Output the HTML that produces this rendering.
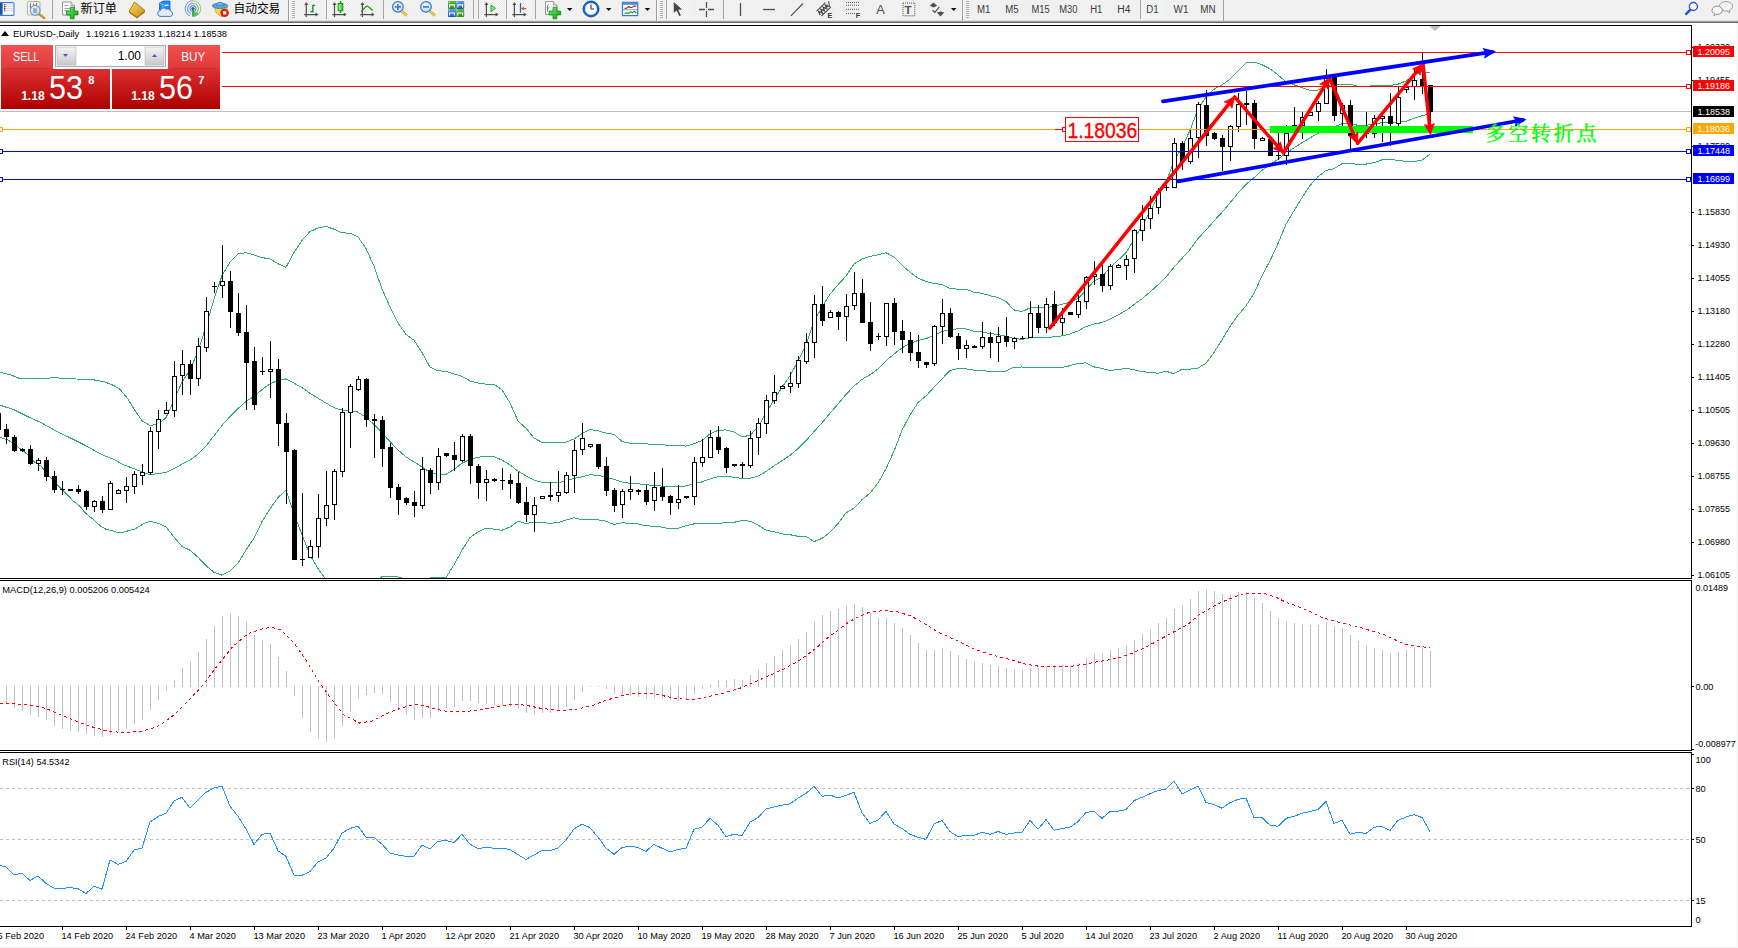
<!DOCTYPE html>
<html lang="zh"><head><meta charset="utf-8"><title>EURUSD-,Daily</title>
<style>
html,body{margin:0;padding:0;background:#fff;overflow:hidden}
svg{display:block}
text{font-family:"Liberation Sans", "Noto Sans CJK SC", sans-serif;}
.ax{font-size:9.2px;fill:#000}
.tf{font-size:10px;fill:#3c3c3c}
.cn{font-size:12px;fill:#000;font-family:"Liberation Sans","Noto Sans CJK SC",sans-serif}
</style></head><body>
<svg width="1738" height="948" viewBox="0 0 1738 948">
<defs>
<linearGradient id="gsell" x1="0" y1="0" x2="0" y2="1"><stop offset="0" stop-color="#f25050"/><stop offset="1" stop-color="#e03838"/></linearGradient>
<linearGradient id="gprice" x1="0" y1="0" x2="0" y2="1"><stop offset="0" stop-color="#de3030"/><stop offset="1" stop-color="#ad0000"/></linearGradient>
<linearGradient id="gbtn" x1="0" y1="0" x2="0" y2="1"><stop offset="0" stop-color="#f4f4f4"/><stop offset="1" stop-color="#c8c8c8"/></linearGradient>
</defs>
<rect x="0" y="0" width="1738" height="948" fill="#fff"/>

<g shape-rendering="crispEdges">
<rect x="0" y="111" width="1691" height="1" fill="#c0c0c0"/>
<clipPath id="mainclip"><rect x="0" y="26" width="1691" height="552"/></clipPath><g clip-path="url(#mainclip)">
<polyline points="0.0,372.3 11.4,375.2 20.9,379.0 34.2,378.6 47.5,378.6 54.1,377.1 62.7,378.6 76.0,379.0 91.1,379.4 104.4,381.8 113.9,385.6 119.6,388.9 127.2,398.0 134.8,410.3 142.4,421.1 150.0,425.5 158.0,424.2 166.0,417.7 174.0,400.1 182.0,382.1 190.0,369.8 198.0,351.4 206.0,326.3 214.0,299.3 222.0,275.6 230.0,262.0 238.0,254.1 246.0,252.6 254.0,254.9 262.0,257.6 270.0,258.9 278.0,263.8 286.0,267.4 294.0,252.4 302.0,240.4 310.0,231.6 318.0,227.9 326.0,226.4 334.0,229.2 342.0,232.7 350.0,233.3 358.0,236.8 366.0,248.5 374.0,266.3 382.0,288.9 390.0,307.1 398.0,322.9 406.0,334.5 414.0,340.2 422.0,352.5 430.0,367.2 438.0,370.9 446.0,371.2 454.0,373.9 462.0,376.2 470.0,380.9 478.0,383.0 486.0,384.2 494.0,384.1 502.0,389.9 510.0,402.9 518.0,421.1 526.0,428.2 534.0,438.0 542.0,442.4 550.0,442.4 558.0,442.5 566.0,442.1 574.0,438.9 582.0,433.7 590.0,429.6 598.0,430.8 606.0,433.0 614.0,434.3 622.0,441.5 630.0,443.2 638.0,443.5 646.0,443.9 654.0,444.3 662.0,444.9 670.0,445.2 678.0,445.3 686.0,446.1 694.0,443.7 702.0,440.5 710.0,433.8 718.0,430.4 726.0,429.9 734.0,432.0 742.0,436.8 750.0,435.4 758.0,427.1 766.0,412.9 774.0,400.0 782.0,387.3 790.0,375.9 798.0,361.1 806.0,345.2 814.0,321.5 822.0,307.1 830.0,294.1 838.0,284.8 846.0,276.1 854.0,264.0 862.0,259.0 870.0,256.4 878.0,254.9 886.0,252.7 894.0,256.9 902.0,265.2 910.0,272.0 918.0,278.2 926.0,281.4 934.0,283.5 942.0,284.5 950.0,288.4 958.0,289.2 966.0,289.1 974.0,292.3 982.0,293.3 990.0,295.7 998.0,297.4 1006.0,301.5 1014.0,309.9 1022.0,311.6 1030.0,307.9 1038.0,307.2 1046.0,307.5 1054.0,306.4 1062.0,304.3 1070.0,302.2 1078.0,298.6 1086.0,290.2 1094.0,281.0 1102.0,276.8 1110.0,267.6 1118.0,260.2 1126.0,252.7 1134.0,239.6 1142.0,225.6 1150.0,211.9 1158.0,196.1 1166.0,182.8 1174.0,160.7 1182.0,147.8 1190.0,130.3 1198.0,109.0 1206.0,96.9 1214.0,89.3 1222.0,84.9 1230.0,79.3 1238.0,70.9 1246.0,63.0 1254.0,62.0 1262.0,64.8 1270.0,68.8 1278.0,75.0 1286.0,81.6 1294.0,84.8 1302.0,87.6 1310.0,90.2 1318.0,90.2 1326.0,85.6 1334.0,84.5 1342.0,84.0 1350.0,84.0 1358.0,86.4 1366.0,86.4 1374.0,85.7 1382.0,85.5 1390.0,85.4 1398.0,84.2 1406.0,81.0 1414.0,75.1 1422.0,71.3 1430.0,73.1" fill="none" stroke="#2fae6b" stroke-width="1" />
<polyline points="0.0,405.2 13.8,409.7 27.6,416.6 41.4,422.8 55.0,430.4 69.0,437.3 83.0,444.2 96.7,451.8 105.0,456.0 113.0,459.0 124.0,465.0 135.0,469.0 146.4,473.9 152.0,474.3 158.0,473.7 166.0,472.4 174.0,468.6 182.0,464.2 190.0,460.0 198.0,454.3 206.0,446.0 214.0,435.8 222.0,425.4 230.0,416.5 238.0,408.6 246.0,401.4 254.0,396.6 262.0,389.6 270.0,383.9 278.0,380.6 286.0,378.9 294.0,383.2 302.0,387.6 310.0,393.3 318.0,398.2 326.0,403.0 334.0,407.8 342.0,410.1 350.0,410.5 358.0,412.1 366.0,417.6 374.0,424.4 382.0,432.8 390.0,441.6 398.0,449.9 406.0,456.9 414.0,461.9 422.0,466.9 430.0,472.6 438.0,474.1 446.0,474.4 454.0,469.4 462.0,463.2 470.0,459.2 478.0,457.4 486.0,456.1 494.0,456.6 502.0,460.1 510.0,464.9 518.0,471.1 526.0,475.9 534.0,480.1 542.0,482.4 550.0,482.9 558.0,482.5 566.0,481.1 574.0,478.3 582.0,476.8 590.0,474.8 598.0,475.4 606.0,477.1 614.0,479.4 622.0,482.1 630.0,483.3 638.0,483.8 646.0,484.9 654.0,485.2 662.0,486.1 670.0,487.0 678.0,486.8 686.0,485.9 694.0,483.8 702.0,481.9 710.0,478.9 718.0,476.8 726.0,476.4 734.0,477.2 742.0,478.6 750.0,478.3 758.0,476.1 766.0,471.6 774.0,465.9 782.0,460.6 790.0,455.3 798.0,448.7 806.0,440.7 814.0,431.6 822.0,422.8 830.0,413.2 838.0,404.1 846.0,394.5 854.0,386.1 862.0,379.4 870.0,374.7 878.0,369.0 886.0,360.8 894.0,354.1 902.0,347.8 910.0,343.5 918.0,340.4 926.0,338.6 934.0,335.4 942.0,331.7 950.0,329.4 958.0,328.9 966.0,329.0 974.0,331.2 982.0,332.0 990.0,333.6 998.0,334.5 1006.0,336.3 1014.0,338.6 1022.0,339.3 1030.0,337.8 1038.0,337.4 1046.0,337.4 1054.0,336.9 1062.0,335.9 1070.0,333.9 1078.0,330.9 1086.0,326.6 1094.0,323.9 1102.0,322.6 1110.0,319.1 1118.0,314.9 1126.0,310.6 1134.0,304.6 1142.0,298.8 1150.0,292.0 1158.0,284.8 1166.0,277.0 1174.0,267.2 1182.0,258.4 1190.0,249.7 1198.0,238.5 1206.0,230.1 1214.0,220.9 1222.0,212.3 1230.0,202.9 1238.0,193.1 1246.0,184.4 1254.0,177.7 1262.0,170.3 1270.0,164.8 1278.0,159.3 1286.0,153.0 1294.0,147.8 1302.0,142.7 1310.0,137.8 1318.0,133.4 1326.0,128.0 1334.0,126.7 1342.0,123.8 1350.0,123.7 1358.0,125.3 1366.0,125.2 1374.0,124.2 1382.0,122.7 1390.0,122.5 1398.0,122.2 1406.0,121.3 1414.0,118.3 1422.0,115.8 1430.0,113.5" fill="none" stroke="#2fae6b" stroke-width="1" />
<polyline points="0.0,437.3 8.3,440.0 13.8,444.2 20.7,449.0 27.6,454.6 34.5,462.0 41.4,466.3 45.6,471.8 51.0,478.0 58.0,485.6 65.0,492.5 73.0,500.8 80.0,506.4 85.6,513.3 94.0,520.0 100.8,526.4 105.5,529.0 120.0,533.0 135.0,529.0 145.0,523.0 150.5,521.3 158.0,523.2 166.0,527.0 174.0,537.1 182.0,546.4 190.0,550.2 198.0,557.2 206.0,565.7 214.0,572.3 222.0,575.2 230.0,571.0 238.0,563.0 246.0,550.1 254.0,538.2 262.0,521.6 270.0,508.9 278.0,497.4 286.0,490.4 294.0,514.0 302.0,534.7 310.0,555.0 318.0,568.6 326.0,579.6 334.0,586.3 342.0,587.6 350.0,587.7 358.0,587.5 366.0,586.7 374.0,582.4 382.0,576.6 390.0,576.0 398.0,576.9 406.0,579.3 414.0,583.7 422.0,581.2 430.0,577.9 438.0,577.4 446.0,577.5 454.0,564.8 462.0,550.2 470.0,537.5 478.0,531.9 486.0,528.1 494.0,529.2 502.0,530.2 510.0,527.0 518.0,521.2 526.0,523.6 534.0,522.2 542.0,522.5 550.0,523.4 558.0,522.5 566.0,520.1 574.0,517.7 582.0,519.8 590.0,520.0 598.0,519.9 606.0,521.2 614.0,524.5 622.0,522.8 630.0,523.4 638.0,524.0 646.0,525.9 654.0,526.1 662.0,527.2 670.0,528.8 678.0,528.3 686.0,525.8 694.0,523.9 702.0,523.2 710.0,523.9 718.0,523.1 726.0,522.9 734.0,522.4 742.0,520.4 750.0,521.2 758.0,525.1 766.0,530.2 774.0,531.7 782.0,533.9 790.0,534.7 798.0,536.3 806.0,536.2 814.0,541.6 822.0,538.4 830.0,532.3 838.0,523.4 846.0,512.9 854.0,508.1 862.0,499.7 870.0,493.0 878.0,483.1 886.0,468.8 894.0,451.2 902.0,430.3 910.0,415.0 918.0,402.6 926.0,395.9 934.0,387.2 942.0,378.9 950.0,370.4 958.0,368.5 966.0,368.9 974.0,370.1 982.0,370.7 990.0,371.4 998.0,371.6 1006.0,371.1 1014.0,367.2 1022.0,367.0 1030.0,367.6 1038.0,367.5 1046.0,367.3 1054.0,367.5 1062.0,367.4 1070.0,365.7 1078.0,363.3 1086.0,362.9 1094.0,366.9 1102.0,368.4 1110.0,370.5 1118.0,369.5 1126.0,368.4 1134.0,369.7 1142.0,371.9 1150.0,372.1 1158.0,373.4 1166.0,371.2 1174.0,373.8 1182.0,369.1 1190.0,369.1 1198.0,368.0 1206.0,363.3 1214.0,352.5 1222.0,339.8 1230.0,326.5 1238.0,315.2 1246.0,305.9 1254.0,293.4 1262.0,275.8 1270.0,260.8 1278.0,243.6 1286.0,224.4 1294.0,210.7 1302.0,197.7 1310.0,185.5 1318.0,176.7 1326.0,170.4 1334.0,168.8 1342.0,163.6 1350.0,163.4 1358.0,164.3 1366.0,164.1 1374.0,162.7 1382.0,159.8 1390.0,159.7 1398.0,160.2 1406.0,161.6 1414.0,161.6 1422.0,160.2 1430.0,154.0" fill="none" stroke="#2fae6b" stroke-width="1" />
</g>
<rect x="-2" y="413" width="1" height="17" fill="#000"/>
<rect x="-4" y="413" width="5" height="17" fill="#000"/>
<rect x="6" y="424" width="1" height="20" fill="#000"/>
<rect x="4" y="429" width="5" height="8" fill="#000"/>
<rect x="14" y="435" width="1" height="17" fill="#000"/>
<rect x="12" y="437" width="5" height="14" fill="#000"/>
<rect x="22" y="448" width="1" height="4" fill="#000"/>
<rect x="20" y="449" width="5" height="2" fill="#000"/>
<rect x="30" y="445" width="1" height="20" fill="#000"/>
<rect x="28" y="449" width="5" height="15" fill="#000"/>
<rect x="38" y="458" width="1" height="13" fill="#000"/>
<rect x="36" y="460" width="5" height="4" fill="#000"/>
<rect x="37" y="461" width="3" height="2" fill="#fff"/>
<rect x="46" y="457" width="1" height="24" fill="#000"/>
<rect x="44" y="460" width="5" height="17" fill="#000"/>
<rect x="54" y="471" width="1" height="22" fill="#000"/>
<rect x="52" y="476" width="5" height="14" fill="#000"/>
<rect x="62" y="481" width="1" height="14" fill="#000"/>
<rect x="60" y="489" width="5" height="1" fill="#000"/>
<rect x="70" y="489" width="1" height="2" fill="#000"/>
<rect x="68" y="489" width="5" height="2" fill="#000"/>
<rect x="78" y="485" width="1" height="9" fill="#000"/>
<rect x="76" y="489" width="5" height="3" fill="#000"/>
<rect x="86" y="490" width="1" height="20" fill="#000"/>
<rect x="84" y="491" width="5" height="16" fill="#000"/>
<rect x="94" y="500" width="1" height="12" fill="#000"/>
<rect x="92" y="501" width="5" height="6" fill="#000"/>
<rect x="93" y="502" width="3" height="4" fill="#fff"/>
<rect x="102" y="496" width="1" height="17" fill="#000"/>
<rect x="100" y="501" width="5" height="9" fill="#000"/>
<rect x="110" y="481" width="1" height="29" fill="#000"/>
<rect x="108" y="483" width="5" height="27" fill="#000"/>
<rect x="109" y="484" width="3" height="25" fill="#fff"/>
<rect x="118" y="489" width="1" height="5" fill="#000"/>
<rect x="116" y="490" width="5" height="4" fill="#000"/>
<rect x="117" y="491" width="3" height="2" fill="#fff"/>
<rect x="126" y="477" width="1" height="26" fill="#000"/>
<rect x="124" y="486" width="5" height="5" fill="#000"/>
<rect x="125" y="487" width="3" height="3" fill="#fff"/>
<rect x="134" y="471" width="1" height="23" fill="#000"/>
<rect x="132" y="474" width="5" height="13" fill="#000"/>
<rect x="133" y="475" width="3" height="11" fill="#fff"/>
<rect x="142" y="464" width="1" height="21" fill="#000"/>
<rect x="140" y="472" width="5" height="4" fill="#000"/>
<rect x="141" y="473" width="3" height="2" fill="#fff"/>
<rect x="150" y="427" width="1" height="48" fill="#000"/>
<rect x="148" y="431" width="5" height="42" fill="#000"/>
<rect x="149" y="432" width="3" height="40" fill="#fff"/>
<rect x="158" y="410" width="1" height="39" fill="#000"/>
<rect x="156" y="419" width="5" height="13" fill="#000"/>
<rect x="157" y="420" width="3" height="11" fill="#fff"/>
<rect x="166" y="402" width="1" height="12" fill="#000"/>
<rect x="164" y="410" width="5" height="4" fill="#000"/>
<rect x="165" y="411" width="3" height="2" fill="#fff"/>
<rect x="174" y="361" width="1" height="56" fill="#000"/>
<rect x="172" y="376" width="5" height="35" fill="#000"/>
<rect x="173" y="377" width="3" height="33" fill="#fff"/>
<rect x="182" y="350" width="1" height="45" fill="#000"/>
<rect x="180" y="364" width="5" height="12" fill="#000"/>
<rect x="181" y="365" width="3" height="10" fill="#fff"/>
<rect x="190" y="360" width="1" height="35" fill="#000"/>
<rect x="188" y="364" width="5" height="15" fill="#000"/>
<rect x="198" y="338" width="1" height="48" fill="#000"/>
<rect x="196" y="346" width="5" height="33" fill="#000"/>
<rect x="197" y="347" width="3" height="31" fill="#fff"/>
<rect x="206" y="297" width="1" height="55" fill="#000"/>
<rect x="204" y="311" width="5" height="37" fill="#000"/>
<rect x="205" y="312" width="3" height="35" fill="#fff"/>
<rect x="214" y="282" width="1" height="11" fill="#000"/>
<rect x="212" y="286" width="5" height="1" fill="#000"/>
<rect x="222" y="245" width="1" height="53" fill="#000"/>
<rect x="220" y="281" width="5" height="5" fill="#000"/>
<rect x="221" y="282" width="3" height="3" fill="#fff"/>
<rect x="230" y="271" width="1" height="57" fill="#000"/>
<rect x="228" y="281" width="5" height="31" fill="#000"/>
<rect x="238" y="293" width="1" height="43" fill="#000"/>
<rect x="236" y="313" width="5" height="20" fill="#000"/>
<rect x="246" y="305" width="1" height="105" fill="#000"/>
<rect x="244" y="332" width="5" height="31" fill="#000"/>
<rect x="254" y="347" width="1" height="63" fill="#000"/>
<rect x="252" y="361" width="5" height="44" fill="#000"/>
<rect x="262" y="357" width="1" height="18" fill="#000"/>
<rect x="260" y="371" width="5" height="1" fill="#000"/>
<rect x="270" y="341" width="1" height="57" fill="#000"/>
<rect x="268" y="369" width="5" height="3" fill="#000"/>
<rect x="269" y="370" width="3" height="1" fill="#fff"/>
<rect x="278" y="359" width="1" height="87" fill="#000"/>
<rect x="276" y="369" width="5" height="55" fill="#000"/>
<rect x="286" y="413" width="1" height="91" fill="#000"/>
<rect x="284" y="423" width="5" height="29" fill="#000"/>
<rect x="294" y="449" width="1" height="111" fill="#000"/>
<rect x="292" y="450" width="5" height="110" fill="#000"/>
<rect x="302" y="493" width="1" height="73" fill="#000"/>
<rect x="300" y="559" width="5" height="1" fill="#000"/>
<rect x="310" y="540" width="1" height="18" fill="#000"/>
<rect x="308" y="546" width="5" height="12" fill="#000"/>
<rect x="309" y="547" width="3" height="10" fill="#fff"/>
<rect x="318" y="494" width="1" height="64" fill="#000"/>
<rect x="316" y="518" width="5" height="29" fill="#000"/>
<rect x="317" y="519" width="3" height="27" fill="#fff"/>
<rect x="326" y="471" width="1" height="55" fill="#000"/>
<rect x="324" y="505" width="5" height="14" fill="#000"/>
<rect x="325" y="506" width="3" height="12" fill="#fff"/>
<rect x="334" y="469" width="1" height="51" fill="#000"/>
<rect x="332" y="471" width="5" height="34" fill="#000"/>
<rect x="333" y="472" width="3" height="32" fill="#fff"/>
<rect x="342" y="408" width="1" height="69" fill="#000"/>
<rect x="340" y="412" width="5" height="60" fill="#000"/>
<rect x="341" y="413" width="3" height="58" fill="#fff"/>
<rect x="350" y="384" width="1" height="64" fill="#000"/>
<rect x="348" y="386" width="5" height="27" fill="#000"/>
<rect x="349" y="387" width="3" height="25" fill="#fff"/>
<rect x="358" y="376" width="1" height="15" fill="#000"/>
<rect x="356" y="379" width="5" height="11" fill="#000"/>
<rect x="357" y="380" width="3" height="9" fill="#fff"/>
<rect x="366" y="378" width="1" height="49" fill="#000"/>
<rect x="364" y="379" width="5" height="41" fill="#000"/>
<rect x="374" y="414" width="1" height="44" fill="#000"/>
<rect x="372" y="419" width="5" height="2" fill="#000"/>
<rect x="382" y="416" width="1" height="51" fill="#000"/>
<rect x="380" y="420" width="5" height="29" fill="#000"/>
<rect x="390" y="443" width="1" height="55" fill="#000"/>
<rect x="388" y="447" width="5" height="41" fill="#000"/>
<rect x="398" y="484" width="1" height="31" fill="#000"/>
<rect x="396" y="487" width="5" height="13" fill="#000"/>
<rect x="406" y="497" width="1" height="8" fill="#000"/>
<rect x="404" y="498" width="5" height="5" fill="#000"/>
<rect x="414" y="491" width="1" height="26" fill="#000"/>
<rect x="412" y="502" width="5" height="4" fill="#000"/>
<rect x="422" y="457" width="1" height="52" fill="#000"/>
<rect x="420" y="469" width="5" height="37" fill="#000"/>
<rect x="421" y="470" width="3" height="35" fill="#fff"/>
<rect x="430" y="468" width="1" height="26" fill="#000"/>
<rect x="428" y="470" width="5" height="13" fill="#000"/>
<rect x="438" y="448" width="1" height="42" fill="#000"/>
<rect x="436" y="456" width="5" height="27" fill="#000"/>
<rect x="437" y="457" width="3" height="25" fill="#fff"/>
<rect x="446" y="453" width="1" height="4" fill="#000"/>
<rect x="444" y="453" width="5" height="3" fill="#000"/>
<rect x="454" y="442" width="1" height="29" fill="#000"/>
<rect x="452" y="455" width="5" height="5" fill="#000"/>
<rect x="462" y="434" width="1" height="28" fill="#000"/>
<rect x="460" y="436" width="5" height="25" fill="#000"/>
<rect x="461" y="437" width="3" height="23" fill="#fff"/>
<rect x="470" y="434" width="1" height="50" fill="#000"/>
<rect x="468" y="436" width="5" height="30" fill="#000"/>
<rect x="478" y="464" width="1" height="35" fill="#000"/>
<rect x="476" y="466" width="5" height="17" fill="#000"/>
<rect x="486" y="470" width="1" height="31" fill="#000"/>
<rect x="484" y="479" width="5" height="4" fill="#000"/>
<rect x="485" y="480" width="3" height="2" fill="#fff"/>
<rect x="494" y="478" width="1" height="4" fill="#000"/>
<rect x="492" y="479" width="5" height="2" fill="#000"/>
<rect x="502" y="468" width="1" height="22" fill="#000"/>
<rect x="500" y="480" width="5" height="1" fill="#000"/>
<rect x="510" y="474" width="1" height="25" fill="#000"/>
<rect x="508" y="480" width="5" height="4" fill="#000"/>
<rect x="518" y="472" width="1" height="32" fill="#000"/>
<rect x="516" y="483" width="5" height="20" fill="#000"/>
<rect x="526" y="487" width="1" height="35" fill="#000"/>
<rect x="524" y="502" width="5" height="13" fill="#000"/>
<rect x="534" y="497" width="1" height="35" fill="#000"/>
<rect x="532" y="505" width="5" height="10" fill="#000"/>
<rect x="533" y="506" width="3" height="8" fill="#fff"/>
<rect x="542" y="496" width="1" height="3" fill="#000"/>
<rect x="540" y="496" width="5" height="3" fill="#000"/>
<rect x="541" y="497" width="3" height="1" fill="#fff"/>
<rect x="550" y="482" width="1" height="19" fill="#000"/>
<rect x="548" y="495" width="5" height="2" fill="#000"/>
<rect x="558" y="471" width="1" height="31" fill="#000"/>
<rect x="556" y="492" width="5" height="4" fill="#000"/>
<rect x="557" y="493" width="3" height="2" fill="#fff"/>
<rect x="566" y="472" width="1" height="22" fill="#000"/>
<rect x="564" y="475" width="5" height="18" fill="#000"/>
<rect x="565" y="476" width="3" height="16" fill="#fff"/>
<rect x="574" y="440" width="1" height="53" fill="#000"/>
<rect x="572" y="450" width="5" height="26" fill="#000"/>
<rect x="573" y="451" width="3" height="24" fill="#fff"/>
<rect x="582" y="423" width="1" height="32" fill="#000"/>
<rect x="580" y="438" width="5" height="12" fill="#000"/>
<rect x="581" y="439" width="3" height="10" fill="#fff"/>
<rect x="590" y="444" width="1" height="4" fill="#000"/>
<rect x="588" y="444" width="5" height="3" fill="#000"/>
<rect x="589" y="445" width="3" height="1" fill="#fff"/>
<rect x="598" y="444" width="1" height="25" fill="#000"/>
<rect x="596" y="444" width="5" height="23" fill="#000"/>
<rect x="606" y="457" width="1" height="39" fill="#000"/>
<rect x="604" y="466" width="5" height="25" fill="#000"/>
<rect x="614" y="488" width="1" height="24" fill="#000"/>
<rect x="612" y="490" width="5" height="16" fill="#000"/>
<rect x="622" y="489" width="1" height="29" fill="#000"/>
<rect x="620" y="491" width="5" height="14" fill="#000"/>
<rect x="621" y="492" width="3" height="12" fill="#fff"/>
<rect x="630" y="476" width="1" height="24" fill="#000"/>
<rect x="628" y="489" width="5" height="3" fill="#000"/>
<rect x="629" y="490" width="3" height="1" fill="#fff"/>
<rect x="638" y="489" width="1" height="6" fill="#000"/>
<rect x="636" y="490" width="5" height="2" fill="#000"/>
<rect x="646" y="485" width="1" height="20" fill="#000"/>
<rect x="644" y="490" width="5" height="12" fill="#000"/>
<rect x="654" y="472" width="1" height="39" fill="#000"/>
<rect x="652" y="487" width="5" height="14" fill="#000"/>
<rect x="653" y="488" width="3" height="12" fill="#fff"/>
<rect x="662" y="468" width="1" height="33" fill="#000"/>
<rect x="660" y="487" width="5" height="10" fill="#000"/>
<rect x="670" y="495" width="1" height="20" fill="#000"/>
<rect x="668" y="496" width="5" height="7" fill="#000"/>
<rect x="678" y="485" width="1" height="24" fill="#000"/>
<rect x="676" y="499" width="5" height="4" fill="#000"/>
<rect x="677" y="500" width="3" height="2" fill="#fff"/>
<rect x="686" y="496" width="1" height="3" fill="#000"/>
<rect x="684" y="496" width="5" height="2" fill="#000"/>
<rect x="694" y="457" width="1" height="48" fill="#000"/>
<rect x="692" y="462" width="5" height="35" fill="#000"/>
<rect x="693" y="463" width="3" height="33" fill="#fff"/>
<rect x="702" y="439" width="1" height="28" fill="#000"/>
<rect x="700" y="457" width="5" height="6" fill="#000"/>
<rect x="701" y="458" width="3" height="4" fill="#fff"/>
<rect x="710" y="430" width="1" height="28" fill="#000"/>
<rect x="708" y="437" width="5" height="21" fill="#000"/>
<rect x="709" y="438" width="3" height="19" fill="#fff"/>
<rect x="718" y="426" width="1" height="28" fill="#000"/>
<rect x="716" y="437" width="5" height="13" fill="#000"/>
<rect x="726" y="447" width="1" height="26" fill="#000"/>
<rect x="724" y="448" width="5" height="20" fill="#000"/>
<rect x="734" y="464" width="1" height="3" fill="#000"/>
<rect x="732" y="464" width="5" height="2" fill="#000"/>
<rect x="742" y="462" width="1" height="16" fill="#000"/>
<rect x="740" y="464" width="5" height="2" fill="#000"/>
<rect x="750" y="431" width="1" height="37" fill="#000"/>
<rect x="748" y="438" width="5" height="28" fill="#000"/>
<rect x="749" y="439" width="3" height="26" fill="#fff"/>
<rect x="758" y="418" width="1" height="37" fill="#000"/>
<rect x="756" y="423" width="5" height="15" fill="#000"/>
<rect x="757" y="424" width="3" height="13" fill="#fff"/>
<rect x="766" y="395" width="1" height="39" fill="#000"/>
<rect x="764" y="400" width="5" height="24" fill="#000"/>
<rect x="765" y="401" width="3" height="22" fill="#fff"/>
<rect x="774" y="375" width="1" height="29" fill="#000"/>
<rect x="772" y="392" width="5" height="9" fill="#000"/>
<rect x="773" y="393" width="3" height="7" fill="#fff"/>
<rect x="782" y="385" width="1" height="3" fill="#000"/>
<rect x="780" y="386" width="5" height="3" fill="#000"/>
<rect x="781" y="387" width="3" height="1" fill="#fff"/>
<rect x="790" y="372" width="1" height="21" fill="#000"/>
<rect x="788" y="383" width="5" height="4" fill="#000"/>
<rect x="789" y="384" width="3" height="2" fill="#fff"/>
<rect x="798" y="356" width="1" height="32" fill="#000"/>
<rect x="796" y="360" width="5" height="24" fill="#000"/>
<rect x="797" y="361" width="3" height="22" fill="#fff"/>
<rect x="806" y="333" width="1" height="31" fill="#000"/>
<rect x="804" y="342" width="5" height="20" fill="#000"/>
<rect x="805" y="343" width="3" height="18" fill="#fff"/>
<rect x="814" y="295" width="1" height="63" fill="#000"/>
<rect x="812" y="304" width="5" height="39" fill="#000"/>
<rect x="813" y="305" width="3" height="37" fill="#fff"/>
<rect x="822" y="286" width="1" height="40" fill="#000"/>
<rect x="820" y="304" width="5" height="17" fill="#000"/>
<rect x="830" y="310" width="1" height="8" fill="#000"/>
<rect x="828" y="312" width="5" height="6" fill="#000"/>
<rect x="829" y="313" width="3" height="4" fill="#fff"/>
<rect x="838" y="311" width="1" height="19" fill="#000"/>
<rect x="836" y="312" width="5" height="5" fill="#000"/>
<rect x="846" y="294" width="1" height="47" fill="#000"/>
<rect x="844" y="306" width="5" height="11" fill="#000"/>
<rect x="845" y="307" width="3" height="9" fill="#fff"/>
<rect x="854" y="272" width="1" height="38" fill="#000"/>
<rect x="852" y="293" width="5" height="13" fill="#000"/>
<rect x="853" y="294" width="3" height="11" fill="#fff"/>
<rect x="862" y="279" width="1" height="44" fill="#000"/>
<rect x="860" y="293" width="5" height="30" fill="#000"/>
<rect x="870" y="302" width="1" height="49" fill="#000"/>
<rect x="868" y="322" width="5" height="22" fill="#000"/>
<rect x="878" y="333" width="1" height="7" fill="#000"/>
<rect x="876" y="336" width="5" height="1" fill="#000"/>
<rect x="886" y="303" width="1" height="43" fill="#000"/>
<rect x="884" y="303" width="5" height="34" fill="#000"/>
<rect x="885" y="304" width="3" height="32" fill="#fff"/>
<rect x="894" y="298" width="1" height="47" fill="#000"/>
<rect x="892" y="303" width="5" height="29" fill="#000"/>
<rect x="902" y="320" width="1" height="33" fill="#000"/>
<rect x="900" y="331" width="5" height="9" fill="#000"/>
<rect x="910" y="332" width="1" height="29" fill="#000"/>
<rect x="908" y="340" width="5" height="13" fill="#000"/>
<rect x="918" y="335" width="1" height="33" fill="#000"/>
<rect x="916" y="352" width="5" height="9" fill="#000"/>
<rect x="926" y="362" width="1" height="6" fill="#000"/>
<rect x="924" y="362" width="5" height="3" fill="#000"/>
<rect x="934" y="325" width="1" height="41" fill="#000"/>
<rect x="932" y="326" width="5" height="38" fill="#000"/>
<rect x="933" y="327" width="3" height="36" fill="#fff"/>
<rect x="942" y="299" width="1" height="45" fill="#000"/>
<rect x="940" y="313" width="5" height="14" fill="#000"/>
<rect x="941" y="314" width="3" height="12" fill="#fff"/>
<rect x="950" y="308" width="1" height="30" fill="#000"/>
<rect x="948" y="313" width="5" height="24" fill="#000"/>
<rect x="958" y="333" width="1" height="27" fill="#000"/>
<rect x="956" y="336" width="5" height="13" fill="#000"/>
<rect x="966" y="340" width="1" height="18" fill="#000"/>
<rect x="964" y="345" width="5" height="4" fill="#000"/>
<rect x="965" y="346" width="3" height="2" fill="#fff"/>
<rect x="974" y="345" width="1" height="3" fill="#000"/>
<rect x="972" y="346" width="5" height="2" fill="#000"/>
<rect x="982" y="322" width="1" height="27" fill="#000"/>
<rect x="980" y="337" width="5" height="10" fill="#000"/>
<rect x="981" y="338" width="3" height="8" fill="#fff"/>
<rect x="990" y="332" width="1" height="26" fill="#000"/>
<rect x="988" y="337" width="5" height="6" fill="#000"/>
<rect x="998" y="327" width="1" height="35" fill="#000"/>
<rect x="996" y="336" width="5" height="7" fill="#000"/>
<rect x="997" y="337" width="3" height="5" fill="#fff"/>
<rect x="1006" y="317" width="1" height="30" fill="#000"/>
<rect x="1004" y="336" width="5" height="6" fill="#000"/>
<rect x="1014" y="337" width="1" height="12" fill="#000"/>
<rect x="1012" y="338" width="5" height="4" fill="#000"/>
<rect x="1013" y="339" width="3" height="2" fill="#fff"/>
<rect x="1022" y="336" width="1" height="3" fill="#000"/>
<rect x="1020" y="338" width="5" height="1" fill="#000"/>
<rect x="1030" y="301" width="1" height="37" fill="#000"/>
<rect x="1028" y="313" width="5" height="25" fill="#000"/>
<rect x="1029" y="314" width="3" height="23" fill="#fff"/>
<rect x="1038" y="305" width="1" height="28" fill="#000"/>
<rect x="1036" y="313" width="5" height="15" fill="#000"/>
<rect x="1046" y="298" width="1" height="35" fill="#000"/>
<rect x="1044" y="304" width="5" height="24" fill="#000"/>
<rect x="1045" y="305" width="3" height="22" fill="#fff"/>
<rect x="1054" y="291" width="1" height="35" fill="#000"/>
<rect x="1052" y="304" width="5" height="19" fill="#000"/>
<rect x="1062" y="308" width="1" height="27" fill="#000"/>
<rect x="1060" y="318" width="5" height="5" fill="#000"/>
<rect x="1061" y="319" width="3" height="3" fill="#fff"/>
<rect x="1070" y="312" width="1" height="3" fill="#000"/>
<rect x="1068" y="312" width="5" height="3" fill="#000"/>
<rect x="1078" y="295" width="1" height="23" fill="#000"/>
<rect x="1076" y="301" width="5" height="14" fill="#000"/>
<rect x="1077" y="302" width="3" height="12" fill="#fff"/>
<rect x="1086" y="276" width="1" height="33" fill="#000"/>
<rect x="1084" y="277" width="5" height="25" fill="#000"/>
<rect x="1085" y="278" width="3" height="23" fill="#fff"/>
<rect x="1094" y="261" width="1" height="24" fill="#000"/>
<rect x="1092" y="274" width="5" height="3" fill="#000"/>
<rect x="1093" y="275" width="3" height="1" fill="#fff"/>
<rect x="1102" y="265" width="1" height="27" fill="#000"/>
<rect x="1100" y="274" width="5" height="12" fill="#000"/>
<rect x="1110" y="264" width="1" height="26" fill="#000"/>
<rect x="1108" y="266" width="5" height="20" fill="#000"/>
<rect x="1109" y="267" width="3" height="18" fill="#fff"/>
<rect x="1118" y="264" width="1" height="4" fill="#000"/>
<rect x="1116" y="265" width="5" height="3" fill="#000"/>
<rect x="1117" y="266" width="3" height="1" fill="#fff"/>
<rect x="1126" y="255" width="1" height="25" fill="#000"/>
<rect x="1124" y="259" width="5" height="7" fill="#000"/>
<rect x="1125" y="260" width="3" height="5" fill="#fff"/>
<rect x="1134" y="229" width="1" height="44" fill="#000"/>
<rect x="1132" y="230" width="5" height="29" fill="#000"/>
<rect x="1133" y="231" width="3" height="27" fill="#fff"/>
<rect x="1142" y="205" width="1" height="36" fill="#000"/>
<rect x="1140" y="219" width="5" height="12" fill="#000"/>
<rect x="1141" y="220" width="3" height="10" fill="#fff"/>
<rect x="1150" y="196" width="1" height="33" fill="#000"/>
<rect x="1148" y="208" width="5" height="11" fill="#000"/>
<rect x="1149" y="209" width="3" height="9" fill="#fff"/>
<rect x="1158" y="188" width="1" height="26" fill="#000"/>
<rect x="1156" y="191" width="5" height="17" fill="#000"/>
<rect x="1157" y="192" width="3" height="15" fill="#fff"/>
<rect x="1166" y="185" width="1" height="6" fill="#000"/>
<rect x="1164" y="187" width="5" height="1" fill="#000"/>
<rect x="1174" y="138" width="1" height="50" fill="#000"/>
<rect x="1172" y="143" width="5" height="45" fill="#000"/>
<rect x="1173" y="144" width="3" height="43" fill="#fff"/>
<rect x="1182" y="141" width="1" height="29" fill="#000"/>
<rect x="1180" y="143" width="5" height="19" fill="#000"/>
<rect x="1190" y="129" width="1" height="35" fill="#000"/>
<rect x="1188" y="138" width="5" height="24" fill="#000"/>
<rect x="1189" y="139" width="3" height="22" fill="#fff"/>
<rect x="1198" y="102" width="1" height="56" fill="#000"/>
<rect x="1196" y="104" width="5" height="34" fill="#000"/>
<rect x="1197" y="105" width="3" height="32" fill="#fff"/>
<rect x="1206" y="90" width="1" height="56" fill="#000"/>
<rect x="1204" y="105" width="5" height="31" fill="#000"/>
<rect x="1214" y="132" width="1" height="8" fill="#000"/>
<rect x="1212" y="133" width="5" height="6" fill="#000"/>
<rect x="1222" y="135" width="1" height="36" fill="#000"/>
<rect x="1220" y="138" width="5" height="9" fill="#000"/>
<rect x="1230" y="125" width="1" height="36" fill="#000"/>
<rect x="1228" y="126" width="5" height="21" fill="#000"/>
<rect x="1229" y="127" width="3" height="19" fill="#fff"/>
<rect x="1238" y="93" width="1" height="39" fill="#000"/>
<rect x="1236" y="104" width="5" height="23" fill="#000"/>
<rect x="1237" y="105" width="3" height="21" fill="#fff"/>
<rect x="1246" y="91" width="1" height="34" fill="#000"/>
<rect x="1244" y="103" width="5" height="2" fill="#000"/>
<rect x="1254" y="100" width="1" height="49" fill="#000"/>
<rect x="1252" y="103" width="5" height="36" fill="#000"/>
<rect x="1262" y="137" width="1" height="4" fill="#000"/>
<rect x="1260" y="138" width="5" height="3" fill="#000"/>
<rect x="1261" y="139" width="3" height="1" fill="#fff"/>
<rect x="1270" y="139" width="1" height="17" fill="#000"/>
<rect x="1268" y="139" width="5" height="17" fill="#000"/>
<rect x="1278" y="133" width="1" height="27" fill="#000"/>
<rect x="1276" y="155" width="5" height="1" fill="#000"/>
<rect x="1286" y="125" width="1" height="40" fill="#000"/>
<rect x="1284" y="133" width="5" height="23" fill="#000"/>
<rect x="1285" y="134" width="3" height="21" fill="#fff"/>
<rect x="1294" y="107" width="1" height="26" fill="#000"/>
<rect x="1292" y="125" width="5" height="8" fill="#000"/>
<rect x="1293" y="126" width="3" height="6" fill="#fff"/>
<rect x="1302" y="112" width="1" height="27" fill="#000"/>
<rect x="1300" y="117" width="5" height="9" fill="#000"/>
<rect x="1301" y="118" width="3" height="7" fill="#fff"/>
<rect x="1310" y="112" width="1" height="4" fill="#000"/>
<rect x="1308" y="112" width="5" height="4" fill="#000"/>
<rect x="1309" y="113" width="3" height="2" fill="#fff"/>
<rect x="1318" y="101" width="1" height="20" fill="#000"/>
<rect x="1316" y="103" width="5" height="9" fill="#000"/>
<rect x="1317" y="104" width="3" height="7" fill="#fff"/>
<rect x="1326" y="69" width="1" height="35" fill="#000"/>
<rect x="1324" y="78" width="5" height="26" fill="#000"/>
<rect x="1325" y="79" width="3" height="24" fill="#fff"/>
<rect x="1334" y="76" width="1" height="45" fill="#000"/>
<rect x="1332" y="77" width="5" height="39" fill="#000"/>
<rect x="1342" y="103" width="1" height="23" fill="#000"/>
<rect x="1340" y="105" width="5" height="9" fill="#000"/>
<rect x="1341" y="106" width="3" height="7" fill="#fff"/>
<rect x="1350" y="100" width="1" height="49" fill="#000"/>
<rect x="1348" y="105" width="5" height="31" fill="#000"/>
<rect x="1366" y="112" width="1" height="26" fill="#000"/>
<rect x="1364" y="128" width="5" height="6" fill="#000"/>
<rect x="1374" y="115" width="1" height="23" fill="#000"/>
<rect x="1372" y="118" width="5" height="16" fill="#000"/>
<rect x="1373" y="119" width="3" height="14" fill="#fff"/>
<rect x="1382" y="116" width="1" height="26" fill="#000"/>
<rect x="1380" y="116" width="5" height="3" fill="#000"/>
<rect x="1381" y="117" width="3" height="1" fill="#fff"/>
<rect x="1390" y="93" width="1" height="53" fill="#000"/>
<rect x="1388" y="116" width="5" height="8" fill="#000"/>
<rect x="1398" y="86" width="1" height="40" fill="#000"/>
<rect x="1396" y="97" width="5" height="27" fill="#000"/>
<rect x="1397" y="98" width="3" height="25" fill="#fff"/>
<rect x="1406" y="86" width="1" height="7" fill="#000"/>
<rect x="1404" y="87" width="5" height="3" fill="#000"/>
<rect x="1405" y="88" width="3" height="1" fill="#fff"/>
<rect x="1414" y="69" width="1" height="31" fill="#000"/>
<rect x="1412" y="80" width="5" height="7" fill="#000"/>
<rect x="1413" y="81" width="3" height="5" fill="#fff"/>
<rect x="1422" y="52" width="1" height="42" fill="#000"/>
<rect x="1420" y="79" width="5" height="7" fill="#000"/>
<rect x="1430" y="85" width="1" height="38" fill="#000"/>
<rect x="1428" y="85" width="5" height="27" fill="#000"/>
<rect x="0" y="52" width="1691" height="1" fill="#ff0000"/>
<rect x="0" y="86" width="1691" height="1" fill="#ff0000"/>
<rect x="0" y="129" width="1691" height="1" fill="#ffa500"/>
<rect x="0" y="151" width="1691" height="1" fill="#0000ff"/>
<rect x="0" y="179" width="1691" height="1" fill="#0000ff"/>
<rect x="1270" y="126" width="203" height="7" fill="#00ff00"/>
</g>
<g>
<line x1="1049.8" y1="328.2" x2="1232.7" y2="99.2" stroke="#ff0000" stroke-width="3.5" stroke-linecap="round"/>
<polygon points="1234.6,96.9 1232.0,108.2 1229.3,103.5 1224.1,102.0" fill="#ff0000" stroke="#ff0000" stroke-width="0.8" stroke-linejoin="miter"/>
<line x1="1234.6" y1="96.9" x2="1281.5" y2="150.7" stroke="#ff0000" stroke-width="3.5" stroke-linecap="round"/>
<polygon points="1283.5,153.0 1272.8,148.4 1277.9,146.6 1280.4,141.8" fill="#ff0000" stroke="#ff0000" stroke-width="0.8" stroke-linejoin="miter"/>
<line x1="1283.5" y1="153.0" x2="1327.9" y2="80.6" stroke="#ff0000" stroke-width="3.5" stroke-linecap="round"/>
<polygon points="1329.5,78.0 1328.3,89.6 1325.1,85.2 1319.7,84.3" fill="#ff0000" stroke="#ff0000" stroke-width="0.8" stroke-linejoin="miter"/>
<line x1="1329.5" y1="78.0" x2="1356.3" y2="140.7" stroke="#ff0000" stroke-width="3.5" stroke-linecap="round"/>
<polygon points="1357.5,143.5 1348.8,135.8 1354.2,135.7 1358.0,131.9" fill="#ff0000" stroke="#ff0000" stroke-width="0.8" stroke-linejoin="miter"/>
<line x1="1357.5" y1="143.5" x2="1421.1" y2="66.3" stroke="#ff0000" stroke-width="3.5" stroke-linecap="round"/>
<polygon points="1423.0,64.0 1420.2,75.3 1417.6,70.6 1412.5,68.9" fill="#ff0000" stroke="#ff0000" stroke-width="0.8" stroke-linejoin="miter"/>
<line x1="1423.0" y1="64.0" x2="1430.2" y2="131.5" stroke="#ff0000" stroke-width="3.5" stroke-linecap="round"/>
<polygon points="1430.5,134.5 1424.4,124.6 1429.6,126.0 1434.4,123.5" fill="#ff0000" stroke="#ff0000" stroke-width="0.8" stroke-linejoin="miter"/>
<line x1="1163.0" y1="101.3" x2="1492.3" y2="51.9" stroke="#0000ff" stroke-width="3.8" stroke-linecap="round"/>
<polygon points="1495.3,51.5 1484.6,58.0 1485.9,52.9 1483.2,48.5" fill="#0000ff" stroke="#0000ff" stroke-width="0.8" stroke-linejoin="miter"/>
<line x1="1178.0" y1="181.3" x2="1522.8" y2="120.0" stroke="#0000ff" stroke-width="3.8" stroke-linecap="round"/>
<polygon points="1525.8,119.5 1515.3,126.2 1516.4,121.2 1513.6,116.8" fill="#0000ff" stroke="#0000ff" stroke-width="0.8" stroke-linejoin="miter"/>
</g>
<text x="1485.5" y="140.8" font-size="20" font-weight="500" fill="#00ff00" stroke="#00ff00" stroke-width="0.25" style="font-family:'Liberation Serif','Noto Serif CJK SC',serif" textLength="111" lengthAdjust="spacing">多空转折点</text>
<g shape-rendering="crispEdges"><rect x="1055" y="129" width="8" height="1" fill="#ff0000"/><rect x="1062.5" y="127.5" width="3" height="4" fill="#fff" stroke="#ff0000" stroke-width="1"/><rect x="1065.5" y="117.5" width="73" height="24" fill="#fff" stroke="#ff0000" stroke-width="1"/></g>
<text x="1067.4" y="137.8" font-size="22" fill="#ff0000" stroke="#ff0000" stroke-width="0.35" textLength="69.8" lengthAdjust="spacingAndGlyphs">1.18036</text>
<g shape-rendering="crispEdges">
<rect x="6" y="686" width="1" height="17" fill="#c0c0c0"/>
<rect x="14" y="686" width="1" height="22" fill="#c0c0c0"/>
<rect x="22" y="686" width="1" height="25" fill="#c0c0c0"/>
<rect x="30" y="686" width="1" height="29" fill="#c0c0c0"/>
<rect x="38" y="686" width="1" height="31" fill="#c0c0c0"/>
<rect x="46" y="686" width="1" height="34" fill="#c0c0c0"/>
<rect x="54" y="686" width="1" height="40" fill="#c0c0c0"/>
<rect x="62" y="686" width="1" height="43" fill="#c0c0c0"/>
<rect x="70" y="686" width="1" height="45" fill="#c0c0c0"/>
<rect x="78" y="686" width="1" height="46" fill="#c0c0c0"/>
<rect x="86" y="686" width="1" height="48" fill="#c0c0c0"/>
<rect x="94" y="686" width="1" height="50" fill="#c0c0c0"/>
<rect x="102" y="686" width="1" height="51" fill="#c0c0c0"/>
<rect x="110" y="686" width="1" height="48" fill="#c0c0c0"/>
<rect x="118" y="686" width="1" height="45" fill="#c0c0c0"/>
<rect x="126" y="686" width="1" height="43" fill="#c0c0c0"/>
<rect x="134" y="686" width="1" height="38" fill="#c0c0c0"/>
<rect x="142" y="686" width="1" height="34" fill="#c0c0c0"/>
<rect x="150" y="686" width="1" height="24" fill="#c0c0c0"/>
<rect x="158" y="686" width="1" height="14" fill="#c0c0c0"/>
<rect x="166" y="686" width="1" height="5" fill="#c0c0c0"/>
<rect x="174" y="680" width="1" height="7" fill="#c0c0c0"/>
<rect x="182" y="668" width="1" height="19" fill="#c0c0c0"/>
<rect x="190" y="662" width="1" height="25" fill="#c0c0c0"/>
<rect x="198" y="652" width="1" height="35" fill="#c0c0c0"/>
<rect x="206" y="639" width="1" height="48" fill="#c0c0c0"/>
<rect x="214" y="626" width="1" height="61" fill="#c0c0c0"/>
<rect x="222" y="616" width="1" height="71" fill="#c0c0c0"/>
<rect x="230" y="614" width="1" height="73" fill="#c0c0c0"/>
<rect x="238" y="616" width="1" height="71" fill="#c0c0c0"/>
<rect x="246" y="622" width="1" height="65" fill="#c0c0c0"/>
<rect x="254" y="635" width="1" height="52" fill="#c0c0c0"/>
<rect x="262" y="640" width="1" height="47" fill="#c0c0c0"/>
<rect x="270" y="644" width="1" height="43" fill="#c0c0c0"/>
<rect x="278" y="657" width="1" height="30" fill="#c0c0c0"/>
<rect x="286" y="671" width="1" height="16" fill="#c0c0c0"/>
<rect x="294" y="686" width="1" height="10" fill="#c0c0c0"/>
<rect x="302" y="686" width="1" height="32" fill="#c0c0c0"/>
<rect x="310" y="686" width="1" height="46" fill="#c0c0c0"/>
<rect x="318" y="686" width="1" height="53" fill="#c0c0c0"/>
<rect x="326" y="686" width="1" height="56" fill="#c0c0c0"/>
<rect x="334" y="686" width="1" height="52" fill="#c0c0c0"/>
<rect x="342" y="686" width="1" height="40" fill="#c0c0c0"/>
<rect x="350" y="686" width="1" height="26" fill="#c0c0c0"/>
<rect x="358" y="686" width="1" height="13" fill="#c0c0c0"/>
<rect x="366" y="686" width="1" height="9" fill="#c0c0c0"/>
<rect x="374" y="686" width="1" height="7" fill="#c0c0c0"/>
<rect x="382" y="686" width="1" height="8" fill="#c0c0c0"/>
<rect x="390" y="686" width="1" height="16" fill="#c0c0c0"/>
<rect x="398" y="686" width="1" height="23" fill="#c0c0c0"/>
<rect x="406" y="686" width="1" height="29" fill="#c0c0c0"/>
<rect x="414" y="686" width="1" height="34" fill="#c0c0c0"/>
<rect x="422" y="686" width="1" height="32" fill="#c0c0c0"/>
<rect x="430" y="686" width="1" height="32" fill="#c0c0c0"/>
<rect x="438" y="686" width="1" height="26" fill="#c0c0c0"/>
<rect x="446" y="686" width="1" height="22" fill="#c0c0c0"/>
<rect x="454" y="686" width="1" height="21" fill="#c0c0c0"/>
<rect x="462" y="686" width="1" height="15" fill="#c0c0c0"/>
<rect x="470" y="686" width="1" height="15" fill="#c0c0c0"/>
<rect x="478" y="686" width="1" height="17" fill="#c0c0c0"/>
<rect x="486" y="686" width="1" height="18" fill="#c0c0c0"/>
<rect x="494" y="686" width="1" height="19" fill="#c0c0c0"/>
<rect x="502" y="686" width="1" height="19" fill="#c0c0c0"/>
<rect x="510" y="686" width="1" height="21" fill="#c0c0c0"/>
<rect x="518" y="686" width="1" height="23" fill="#c0c0c0"/>
<rect x="526" y="686" width="1" height="27" fill="#c0c0c0"/>
<rect x="534" y="686" width="1" height="28" fill="#c0c0c0"/>
<rect x="542" y="686" width="1" height="27" fill="#c0c0c0"/>
<rect x="550" y="686" width="1" height="27" fill="#c0c0c0"/>
<rect x="558" y="686" width="1" height="25" fill="#c0c0c0"/>
<rect x="566" y="686" width="1" height="21" fill="#c0c0c0"/>
<rect x="574" y="686" width="1" height="14" fill="#c0c0c0"/>
<rect x="582" y="686" width="1" height="6" fill="#c0c0c0"/>
<rect x="590" y="686" width="1" height="1" fill="#c0c0c0"/>
<rect x="598" y="686" width="1" height="1" fill="#c0c0c0"/>
<rect x="606" y="686" width="1" height="3" fill="#c0c0c0"/>
<rect x="614" y="686" width="1" height="8" fill="#c0c0c0"/>
<rect x="622" y="686" width="1" height="10" fill="#c0c0c0"/>
<rect x="630" y="686" width="1" height="10" fill="#c0c0c0"/>
<rect x="638" y="686" width="1" height="11" fill="#c0c0c0"/>
<rect x="646" y="686" width="1" height="13" fill="#c0c0c0"/>
<rect x="654" y="686" width="1" height="12" fill="#c0c0c0"/>
<rect x="662" y="686" width="1" height="13" fill="#c0c0c0"/>
<rect x="670" y="686" width="1" height="14" fill="#c0c0c0"/>
<rect x="678" y="686" width="1" height="15" fill="#c0c0c0"/>
<rect x="686" y="686" width="1" height="14" fill="#c0c0c0"/>
<rect x="694" y="686" width="1" height="8" fill="#c0c0c0"/>
<rect x="702" y="686" width="1" height="3" fill="#c0c0c0"/>
<rect x="710" y="684" width="1" height="3" fill="#c0c0c0"/>
<rect x="718" y="680" width="1" height="7" fill="#c0c0c0"/>
<rect x="726" y="680" width="1" height="7" fill="#c0c0c0"/>
<rect x="734" y="679" width="1" height="8" fill="#c0c0c0"/>
<rect x="742" y="680" width="1" height="7" fill="#c0c0c0"/>
<rect x="750" y="675" width="1" height="12" fill="#c0c0c0"/>
<rect x="758" y="670" width="1" height="17" fill="#c0c0c0"/>
<rect x="766" y="663" width="1" height="24" fill="#c0c0c0"/>
<rect x="774" y="656" width="1" height="31" fill="#c0c0c0"/>
<rect x="782" y="650" width="1" height="37" fill="#c0c0c0"/>
<rect x="790" y="645" width="1" height="42" fill="#c0c0c0"/>
<rect x="798" y="639" width="1" height="48" fill="#c0c0c0"/>
<rect x="806" y="632" width="1" height="55" fill="#c0c0c0"/>
<rect x="814" y="622" width="1" height="65" fill="#c0c0c0"/>
<rect x="822" y="615" width="1" height="72" fill="#c0c0c0"/>
<rect x="830" y="611" width="1" height="76" fill="#c0c0c0"/>
<rect x="838" y="609" width="1" height="78" fill="#c0c0c0"/>
<rect x="846" y="606" width="1" height="81" fill="#c0c0c0"/>
<rect x="854" y="604" width="1" height="83" fill="#c0c0c0"/>
<rect x="862" y="607" width="1" height="80" fill="#c0c0c0"/>
<rect x="870" y="613" width="1" height="74" fill="#c0c0c0"/>
<rect x="878" y="618" width="1" height="69" fill="#c0c0c0"/>
<rect x="886" y="618" width="1" height="69" fill="#c0c0c0"/>
<rect x="894" y="623" width="1" height="64" fill="#c0c0c0"/>
<rect x="902" y="628" width="1" height="59" fill="#c0c0c0"/>
<rect x="910" y="635" width="1" height="52" fill="#c0c0c0"/>
<rect x="918" y="643" width="1" height="44" fill="#c0c0c0"/>
<rect x="926" y="650" width="1" height="37" fill="#c0c0c0"/>
<rect x="934" y="650" width="1" height="37" fill="#c0c0c0"/>
<rect x="942" y="648" width="1" height="39" fill="#c0c0c0"/>
<rect x="950" y="651" width="1" height="36" fill="#c0c0c0"/>
<rect x="958" y="655" width="1" height="32" fill="#c0c0c0"/>
<rect x="966" y="659" width="1" height="28" fill="#c0c0c0"/>
<rect x="974" y="662" width="1" height="25" fill="#c0c0c0"/>
<rect x="982" y="663" width="1" height="24" fill="#c0c0c0"/>
<rect x="990" y="665" width="1" height="22" fill="#c0c0c0"/>
<rect x="998" y="666" width="1" height="21" fill="#c0c0c0"/>
<rect x="1006" y="668" width="1" height="19" fill="#c0c0c0"/>
<rect x="1014" y="669" width="1" height="18" fill="#c0c0c0"/>
<rect x="1022" y="670" width="1" height="17" fill="#c0c0c0"/>
<rect x="1030" y="668" width="1" height="19" fill="#c0c0c0"/>
<rect x="1038" y="668" width="1" height="19" fill="#c0c0c0"/>
<rect x="1046" y="667" width="1" height="20" fill="#c0c0c0"/>
<rect x="1054" y="665" width="1" height="22" fill="#c0c0c0"/>
<rect x="1062" y="665" width="1" height="22" fill="#c0c0c0"/>
<rect x="1070" y="665" width="1" height="22" fill="#c0c0c0"/>
<rect x="1078" y="663" width="1" height="24" fill="#c0c0c0"/>
<rect x="1086" y="658" width="1" height="29" fill="#c0c0c0"/>
<rect x="1094" y="654" width="1" height="33" fill="#c0c0c0"/>
<rect x="1102" y="653" width="1" height="34" fill="#c0c0c0"/>
<rect x="1110" y="650" width="1" height="37" fill="#c0c0c0"/>
<rect x="1118" y="648" width="1" height="39" fill="#c0c0c0"/>
<rect x="1126" y="646" width="1" height="41" fill="#c0c0c0"/>
<rect x="1134" y="640" width="1" height="47" fill="#c0c0c0"/>
<rect x="1142" y="634" width="1" height="53" fill="#c0c0c0"/>
<rect x="1150" y="629" width="1" height="58" fill="#c0c0c0"/>
<rect x="1158" y="623" width="1" height="64" fill="#c0c0c0"/>
<rect x="1166" y="618" width="1" height="69" fill="#c0c0c0"/>
<rect x="1174" y="609" width="1" height="78" fill="#c0c0c0"/>
<rect x="1182" y="605" width="1" height="82" fill="#c0c0c0"/>
<rect x="1190" y="599" width="1" height="88" fill="#c0c0c0"/>
<rect x="1198" y="591" width="1" height="96" fill="#c0c0c0"/>
<rect x="1206" y="590" width="1" height="97" fill="#c0c0c0"/>
<rect x="1214" y="591" width="1" height="96" fill="#c0c0c0"/>
<rect x="1222" y="594" width="1" height="93" fill="#c0c0c0"/>
<rect x="1230" y="594" width="1" height="93" fill="#c0c0c0"/>
<rect x="1238" y="592" width="1" height="95" fill="#c0c0c0"/>
<rect x="1246" y="592" width="1" height="95" fill="#c0c0c0"/>
<rect x="1254" y="598" width="1" height="89" fill="#c0c0c0"/>
<rect x="1262" y="603" width="1" height="84" fill="#c0c0c0"/>
<rect x="1270" y="611" width="1" height="76" fill="#c0c0c0"/>
<rect x="1278" y="618" width="1" height="69" fill="#c0c0c0"/>
<rect x="1286" y="621" width="1" height="66" fill="#c0c0c0"/>
<rect x="1294" y="623" width="1" height="64" fill="#c0c0c0"/>
<rect x="1302" y="624" width="1" height="63" fill="#c0c0c0"/>
<rect x="1310" y="625" width="1" height="62" fill="#c0c0c0"/>
<rect x="1318" y="625" width="1" height="62" fill="#c0c0c0"/>
<rect x="1326" y="622" width="1" height="65" fill="#c0c0c0"/>
<rect x="1334" y="626" width="1" height="61" fill="#c0c0c0"/>
<rect x="1342" y="628" width="1" height="59" fill="#c0c0c0"/>
<rect x="1350" y="635" width="1" height="52" fill="#c0c0c0"/>
<rect x="1358" y="641" width="1" height="46" fill="#c0c0c0"/>
<rect x="1366" y="646" width="1" height="41" fill="#c0c0c0"/>
<rect x="1374" y="648" width="1" height="39" fill="#c0c0c0"/>
<rect x="1382" y="650" width="1" height="37" fill="#c0c0c0"/>
<rect x="1390" y="653" width="1" height="34" fill="#c0c0c0"/>
<rect x="1398" y="652" width="1" height="35" fill="#c0c0c0"/>
<rect x="1406" y="650" width="1" height="37" fill="#c0c0c0"/>
<rect x="1414" y="647" width="1" height="40" fill="#c0c0c0"/>
<rect x="1422" y="647" width="1" height="40" fill="#c0c0c0"/>
<rect x="1430" y="651" width="1" height="36" fill="#c0c0c0"/>
<polyline points="0.0,703.3 15.0,703.8 30.0,705.3 45.6,708.4 60.8,714.7 76.0,721.0 91.0,726.6 106.0,730.7 125.0,733.0 142.0,731.0 157.0,726.9 172.0,716.7 187.0,702.0 202.5,685.6 217.7,665.3 233.0,646.4 248.0,633.7 263.0,628.6 272.0,627.4 281.0,629.9 293.7,642.6 306.0,660.0 319.0,681.8 331.6,699.5 344.0,715.0 359.5,723.0 372.0,721.0 387.0,713.4 400.0,708.4 415.0,704.0 425.0,705.8 432.7,708.4 447.8,711.7 463.0,712.0 478.0,710.0 496.0,707.0 511.0,704.0 526.0,705.3 541.5,708.4 559.0,710.4 574.4,709.6 592.0,705.8 607.0,700.0 622.5,695.7 637.7,693.0 647.8,693.0 663.0,695.7 678.0,698.8 693.4,699.5 708.6,696.5 723.8,693.0 739.0,688.6 754.0,682.3 769.4,675.5 784.6,668.6 799.7,660.3 815.0,648.9 830.0,636.0 840.0,628.6 847.6,623.0 857.7,617.0 870.0,612.0 885.6,610.4 898.0,612.0 911.0,616.0 923.5,623.0 936.0,631.0 949.0,637.0 961.5,642.6 974.0,649.0 987.0,653.4 999.5,657.0 1012.0,660.0 1025.0,664.0 1037.5,666.0 1055.0,666.0 1073.0,666.0 1085.6,664.0 1095.7,662.0 1108.0,660.0 1121.0,657.0 1133.7,652.7 1146.0,647.0 1159.0,640.0 1171.6,633.0 1187.0,625.0 1199.5,614.7 1212.0,607.0 1225.0,600.8 1237.5,595.7 1247.6,593.7 1265.0,593.7 1275.4,597.0 1285.6,602.0 1298.0,606.6 1311.0,612.0 1321.0,617.0 1333.7,621.0 1346.0,624.0 1359.0,627.0 1371.6,631.0 1384.0,634.5 1394.4,639.5 1404.6,644.0 1417.0,646.0 1430.0,648.0" fill="none" stroke="#ff0000" stroke-width="1" stroke-dasharray="3 3"/>
</g>
<g shape-rendering="crispEdges">
<line x1="0" y1="788.5" x2="1691" y2="788.5" stroke="#c0c0c0" stroke-width="1" stroke-dasharray="3 3"/>
<line x1="0" y1="839.5" x2="1691" y2="839.5" stroke="#c0c0c0" stroke-width="1" stroke-dasharray="3 3"/>
<line x1="0" y1="900.5" x2="1691" y2="900.5" stroke="#c0c0c0" stroke-width="1" stroke-dasharray="3 3"/>
<polyline points="-2.0,865.0 6.0,867.0 14.0,874.8 22.0,873.3 30.0,880.4 38.0,876.0 46.0,883.4 54.0,888.2 62.0,888.5 70.0,887.5 78.0,888.7 86.0,893.5 94.0,886.2 102.0,889.2 110.0,860.0 118.0,864.4 126.0,861.4 134.0,850.0 142.0,848.0 150.0,822.0 158.0,816.6 166.0,813.3 174.0,801.0 182.0,797.3 190.0,808.2 198.0,800.0 206.0,792.3 214.0,788.0 222.0,786.2 230.0,806.2 238.0,816.3 246.0,829.0 254.0,844.4 262.0,834.3 270.0,833.0 278.0,850.8 286.0,856.3 294.0,875.3 302.0,875.3 310.0,871.5 318.0,861.9 326.0,858.0 334.0,848.2 342.0,833.0 350.0,828.5 358.0,826.0 366.0,837.3 374.0,837.3 382.0,844.2 390.0,853.0 398.0,855.0 406.0,856.3 414.0,856.3 422.0,845.2 430.0,848.7 438.0,841.3 446.0,840.4 454.0,842.4 462.0,834.3 470.0,844.2 478.0,848.7 486.0,847.2 494.0,848.2 502.0,848.2 510.0,849.5 518.0,854.6 526.0,859.4 534.0,855.0 542.0,850.5 550.0,850.5 558.0,848.2 566.0,839.9 574.0,829.0 582.0,824.2 590.0,827.7 598.0,837.3 606.0,848.0 614.0,854.3 622.0,847.5 630.0,846.2 638.0,847.5 646.0,851.3 654.0,844.4 662.0,848.2 670.0,851.8 678.0,849.5 686.0,848.2 694.0,829.2 702.0,827.2 710.0,818.4 718.0,825.2 726.0,836.6 734.0,834.3 742.0,835.6 750.0,822.2 758.0,817.6 766.0,809.0 774.0,807.0 782.0,805.2 790.0,803.9 798.0,798.1 806.0,793.5 814.0,786.2 822.0,796.3 830.0,795.0 838.0,798.1 846.0,795.3 854.0,792.3 862.0,812.8 870.0,823.4 878.0,820.0 886.0,811.3 894.0,824.0 902.0,828.5 910.0,834.3 918.0,837.3 926.0,839.4 934.0,824.0 942.0,820.4 950.0,831.5 958.0,836.6 966.0,835.3 974.0,835.3 982.0,832.3 990.0,834.3 998.0,831.5 1006.0,834.3 1014.0,833.0 1022.0,832.3 1030.0,820.4 1038.0,829.2 1046.0,819.6 1054.0,830.3 1062.0,828.5 1070.0,827.2 1078.0,821.6 1086.0,812.5 1094.0,811.3 1102.0,818.4 1110.0,811.5 1118.0,811.3 1126.0,809.5 1134.0,800.6 1142.0,797.3 1150.0,793.8 1158.0,790.5 1166.0,789.2 1174.0,781.1 1182.0,793.8 1190.0,790.0 1198.0,786.0 1206.0,802.4 1214.0,804.4 1222.0,808.2 1230.0,802.7 1238.0,799.4 1246.0,798.1 1254.0,817.6 1262.0,817.6 1270.0,825.2 1278.0,826.3 1286.0,818.4 1294.0,816.3 1302.0,813.3 1310.0,811.5 1318.0,809.5 1326.0,801.4 1334.0,823.4 1342.0,820.4 1350.0,834.3 1358.0,832.3 1366.0,833.5 1374.0,827.2 1382.0,826.5 1390.0,830.5 1398.0,820.4 1406.0,817.0 1414.0,814.6 1422.0,817.6 1430.0,831.5" fill="none" stroke="#1e90ff" stroke-width="1" />
</g>
<g shape-rendering="crispEdges" fill="#000">
<rect x="0" y="25" width="1692" height="1"/>
<rect x="1691" y="25" width="1" height="554"/>
<rect x="0" y="578" width="1692" height="1"/>
<rect x="0" y="580" width="1692" height="1"/>
<rect x="1691" y="580" width="1" height="171"/>
<rect x="0" y="750" width="1692" height="1"/>
<rect x="0" y="752" width="1692" height="1"/>
<rect x="1691" y="752" width="1" height="175"/>
<rect x="0" y="926" width="1692" height="1"/>
<rect x="1692" y="212" width="2" height="1"/>
<rect x="1692" y="245" width="2" height="1"/>
<rect x="1692" y="278" width="2" height="1"/>
<rect x="1692" y="311" width="2" height="1"/>
<rect x="1692" y="344" width="2" height="1"/>
<rect x="1692" y="377" width="2" height="1"/>
<rect x="1692" y="410" width="2" height="1"/>
<rect x="1692" y="443" width="2" height="1"/>
<rect x="1692" y="476" width="2" height="1"/>
<rect x="1692" y="509" width="2" height="1"/>
<rect x="1692" y="542" width="2" height="1"/>
<rect x="1692" y="575" width="2" height="1"/>
<rect x="1692" y="47" width="2" height="1"/>
<rect x="1692" y="80" width="2" height="1"/>
<rect x="1692" y="146" width="2" height="1"/>
<rect x="1692" y="686" width="2" height="1"/>
<rect x="1692" y="788" width="2" height="1"/>
<rect x="1692" y="839" width="2" height="1"/>
<rect x="1692" y="900" width="2" height="1"/>
<rect x="1692" y="749" width="2" height="1"/>
<rect x="1692" y="754" width="2" height="1"/>
<rect x="62" y="927" width="1" height="3"/>
<rect x="126" y="927" width="1" height="3"/>
<rect x="190" y="927" width="1" height="3"/>
<rect x="254" y="927" width="1" height="3"/>
<rect x="318" y="927" width="1" height="3"/>
<rect x="382" y="927" width="1" height="3"/>
<rect x="446" y="927" width="1" height="3"/>
<rect x="510" y="927" width="1" height="3"/>
<rect x="574" y="927" width="1" height="3"/>
<rect x="638" y="927" width="1" height="3"/>
<rect x="702" y="927" width="1" height="3"/>
<rect x="766" y="927" width="1" height="3"/>
<rect x="830" y="927" width="1" height="3"/>
<rect x="894" y="927" width="1" height="3"/>
<rect x="958" y="927" width="1" height="3"/>
<rect x="1022" y="927" width="1" height="3"/>
<rect x="1086" y="927" width="1" height="3"/>
<rect x="1150" y="927" width="1" height="3"/>
<rect x="1214" y="927" width="1" height="3"/>
<rect x="1278" y="927" width="1" height="3"/>
<rect x="1342" y="927" width="1" height="3"/>
<rect x="1406" y="927" width="1" height="3"/>
</g>
<text class="ax" x="1697.5" y="215.2" textLength="32.5" lengthAdjust="spacingAndGlyphs">1.15830</text>
<text class="ax" x="1697.5" y="248.2" textLength="32.5" lengthAdjust="spacingAndGlyphs">1.14930</text>
<text class="ax" x="1697.5" y="281.2" textLength="32.5" lengthAdjust="spacingAndGlyphs">1.14055</text>
<text class="ax" x="1697.5" y="314.2" textLength="32.5" lengthAdjust="spacingAndGlyphs">1.13180</text>
<text class="ax" x="1697.5" y="347.2" textLength="32.5" lengthAdjust="spacingAndGlyphs">1.12280</text>
<text class="ax" x="1697.5" y="380.2" textLength="32.5" lengthAdjust="spacingAndGlyphs">1.11405</text>
<text class="ax" x="1697.5" y="413.2" textLength="32.5" lengthAdjust="spacingAndGlyphs">1.10505</text>
<text class="ax" x="1697.5" y="446.2" textLength="32.5" lengthAdjust="spacingAndGlyphs">1.09630</text>
<text class="ax" x="1697.5" y="479.2" textLength="32.5" lengthAdjust="spacingAndGlyphs">1.08755</text>
<text class="ax" x="1697.5" y="512.2" textLength="32.5" lengthAdjust="spacingAndGlyphs">1.07855</text>
<text class="ax" x="1697.5" y="545.2" textLength="32.5" lengthAdjust="spacingAndGlyphs">1.06980</text>
<text class="ax" x="1697.5" y="578.2" textLength="32.5" lengthAdjust="spacingAndGlyphs">1.06105</text>
<text class="ax" x="1697.5" y="50.2" textLength="32.5" lengthAdjust="spacingAndGlyphs">1.20330</text>
<text class="ax" x="1697.5" y="83.2" textLength="32.5" lengthAdjust="spacingAndGlyphs">1.19455</text>
<text class="ax" x="1697.5" y="149.2" textLength="32.5" lengthAdjust="spacingAndGlyphs">1.17580</text>
<text class="ax" x="1695.5" y="591.3" textLength="32.5" lengthAdjust="spacingAndGlyphs">0.01489</text>
<text class="ax" x="1695.5" y="689.5">0.00</text>
<text class="ax" x="1695.3" y="746.7" textLength="40.5" lengthAdjust="spacingAndGlyphs">-0.008977</text>
<text class="ax" x="1695.5" y="763">100</text>
<text class="ax" x="1695.5" y="791.5">80</text>
<text class="ax" x="1695.5" y="842.5">50</text>
<text class="ax" x="1695.5" y="903.5">15</text>
<text class="ax" x="1695.5" y="922.9">0</text>
<g shape-rendering="crispEdges">
<rect x="1693" y="46" width="41" height="11" fill="#ff0000"/>
<rect x="1686.5" y="50.5" width="4" height="4" fill="#fff" stroke="#ff0000" stroke-width="1"/>
<rect x="1693" y="80" width="41" height="11" fill="#ff0000"/>
<rect x="1686.5" y="84.5" width="4" height="4" fill="#fff" stroke="#ff0000" stroke-width="1"/>
<rect x="1693" y="106" width="41" height="11" fill="#000000"/>
<rect x="1693" y="123" width="41" height="11" fill="#ffa500"/>
<rect x="1686.5" y="127.5" width="4" height="4" fill="#fff" stroke="#ffa500" stroke-width="1"/>
<rect x="1693" y="145" width="41" height="11" fill="#0000ff"/>
<rect x="1686.5" y="149.5" width="4" height="4" fill="#fff" stroke="#0000ff" stroke-width="1"/>
<rect x="1693" y="173" width="41" height="11" fill="#0000ff"/>
<rect x="1686.5" y="177.5" width="4" height="4" fill="#fff" stroke="#0000ff" stroke-width="1"/>
<rect x="-0.5" y="127.5" width="3" height="4" fill="#fff" stroke="#ffa500" stroke-width="1"/>
<rect x="-0.5" y="149.5" width="3" height="4" fill="#fff" stroke="#0000ff" stroke-width="1"/>
<rect x="-0.5" y="177.5" width="3" height="4" fill="#fff" stroke="#0000ff" stroke-width="1"/>
</g>
<text class="ax" x="1697.5" y="54.8" style="fill:#fff" textLength="32.5" lengthAdjust="spacingAndGlyphs">1.20095</text>
<text class="ax" x="1697.5" y="88.8" style="fill:#fff" textLength="32.5" lengthAdjust="spacingAndGlyphs">1.19186</text>
<text class="ax" x="1697.5" y="114.8" style="fill:#fff" textLength="32.5" lengthAdjust="spacingAndGlyphs">1.18538</text>
<text class="ax" x="1697.5" y="131.8" style="fill:#fff" textLength="32.5" lengthAdjust="spacingAndGlyphs">1.18036</text>
<text class="ax" x="1697.5" y="153.8" style="fill:#fff" textLength="32.5" lengthAdjust="spacingAndGlyphs">1.17448</text>
<text class="ax" x="1697.5" y="181.8" style="fill:#fff" textLength="32.5" lengthAdjust="spacingAndGlyphs">1.16699</text>
<text class="ax" x="-2.5" y="939">5 Feb 2020</text>
<text class="ax" x="61.5" y="939">14 Feb 2020</text>
<text class="ax" x="125.5" y="939">24 Feb 2020</text>
<text class="ax" x="189.5" y="939">4 Mar 2020</text>
<text class="ax" x="253.5" y="939">13 Mar 2020</text>
<text class="ax" x="317.5" y="939">23 Mar 2020</text>
<text class="ax" x="381.5" y="939">1 Apr 2020</text>
<text class="ax" x="445.5" y="939">12 Apr 2020</text>
<text class="ax" x="509.5" y="939">21 Apr 2020</text>
<text class="ax" x="573.5" y="939">30 Apr 2020</text>
<text class="ax" x="637.5" y="939">10 May 2020</text>
<text class="ax" x="701.5" y="939">19 May 2020</text>
<text class="ax" x="765.5" y="939">28 May 2020</text>
<text class="ax" x="829.5" y="939">7 Jun 2020</text>
<text class="ax" x="893.5" y="939">16 Jun 2020</text>
<text class="ax" x="957.5" y="939">25 Jun 2020</text>
<text class="ax" x="1021.5" y="939">5 Jul 2020</text>
<text class="ax" x="1085.5" y="939">14 Jul 2020</text>
<text class="ax" x="1149.5" y="939">23 Jul 2020</text>
<text class="ax" x="1213.5" y="939">2 Aug 2020</text>
<text class="ax" x="1277.5" y="939">11 Aug 2020</text>
<text class="ax" x="1341.5" y="939">20 Aug 2020</text>
<text class="ax" x="1405.5" y="939">30 Aug 2020</text>
<text class="ax" x="2.3" y="592.8" textLength="147.5" lengthAdjust="spacingAndGlyphs">MACD(12,26,9) 0.005206 0.005424</text>
<text class="ax" x="2.3" y="764.8" textLength="67.2" lengthAdjust="spacingAndGlyphs">RSI(14) 54.5342</text>
<polygon points="1,36 9,36 5,31" fill="#000"/>
<text class="ax" x="13" y="36.8" textLength="66.3" lengthAdjust="spacingAndGlyphs">EURUSD-,Daily</text>
<text class="ax" x="86" y="36.8" textLength="141" lengthAdjust="spacingAndGlyphs">1.19216 1.19233 1.18214 1.18538</text>
<polygon points="1429,26 1441,26 1435,31" fill="#c0c0c0"/>
<g>
<rect x="0" y="43" width="222" height="67" fill="#fff"/>
<rect x="1" y="45" width="52" height="25" fill="url(#gsell)"/>
<rect x="168" y="45" width="52" height="25" fill="url(#gsell)"/>
<rect x="1" y="69" width="109" height="40" fill="url(#gprice)"/>
<rect x="112" y="69" width="108" height="40" fill="url(#gprice)"/>
<rect x="5" y="68" width="44" height="1" fill="#c03030"/>
<rect x="172" y="68" width="44" height="1" fill="#c03030"/>
<rect x="55.5" y="45.5" width="110" height="21" fill="#fff" stroke="#a8a8a8"/>
<rect x="57" y="47" width="19" height="18" fill="url(#gbtn)" stroke="#b4b4b4" stroke-width="0.6"/>
<rect x="145" y="47" width="19" height="18" fill="url(#gbtn)" stroke="#b4b4b4" stroke-width="0.6"/>
<polygon points="63,54 68,54 65.5,57" fill="#4060c0"/>
<polygon points="152,57 157,57 154.5,54" fill="#4060c0"/>
<text x="13" y="61" font-size="12.5" fill="#fff" textLength="26.3" lengthAdjust="spacingAndGlyphs">SELL</text>
<text x="181.2" y="61" font-size="12.5" fill="#fff" textLength="24" lengthAdjust="spacingAndGlyphs">BUY</text>
<text x="141" y="59.6" font-size="12" fill="#000" text-anchor="end">1.00</text>
<text x="21.2" y="99.5" font-size="12" font-weight="bold" fill="#fff" textLength="23.4" lengthAdjust="spacingAndGlyphs">1.18</text>
<text x="49" y="99" font-size="32.5" fill="#fff" textLength="34" lengthAdjust="spacingAndGlyphs">53</text>
<text x="88.3" y="83.5" font-size="11" font-weight="bold" fill="#fff">8</text>
<text x="131.2" y="99.5" font-size="12" font-weight="bold" fill="#fff" textLength="23.4" lengthAdjust="spacingAndGlyphs">1.18</text>
<text x="159" y="99" font-size="32.5" fill="#fff" textLength="34" lengthAdjust="spacingAndGlyphs">56</text>
<text x="198.3" y="83.5" font-size="11" font-weight="bold" fill="#fff">7</text>
</g>
<g id="toolbar">
<defs><linearGradient id="gplus" x1="0" y1="0" x2="1" y2="1"><stop offset="0" stop-color="#7df07d"/><stop offset="1" stop-color="#0a9a0a"/></linearGradient><linearGradient id="ggold" x1="0" y1="0" x2="1" y2="1"><stop offset="0" stop-color="#f7de6a"/><stop offset="1" stop-color="#c88a10"/></linearGradient><linearGradient id="gblue" x1="0" y1="0" x2="0" y2="1"><stop offset="0" stop-color="#5aa0f0"/><stop offset="1" stop-color="#1c50c0"/></linearGradient><linearGradient id="ggreen" x1="0" y1="0" x2="0" y2="1"><stop offset="0" stop-color="#58b838"/><stop offset="1" stop-color="#2e8c18"/></linearGradient><linearGradient id="gcandle" x1="0" y1="0" x2="1" y2="0"><stop offset="0" stop-color="#b8f8b0"/><stop offset="1" stop-color="#20c820"/></linearGradient><radialGradient id="glens" cx="0.4" cy="0.35" r="0.7"><stop offset="0" stop-color="#f4fbff"/><stop offset="1" stop-color="#b4d4f0"/></radialGradient><pattern id="chk" width="2" height="2" patternUnits="userSpaceOnUse"><rect width="2" height="2" fill="#fafafa"/><rect width="1" height="1" fill="#ececec"/><rect x="1" y="1" width="1" height="1" fill="#ececec"/></pattern></defs>
<rect x="0" y="0" width="1738" height="20" fill="#f0f0f0"/>
<rect x="0" y="20" width="1738" height="1" fill="#dedede"/>
<rect x="0" y="21" width="1738" height="1" fill="#a0a0a0"/>
<rect x="0" y="22" width="1738" height="1" fill="#6a6a6a"/>
<rect x="0" y="23" width="1738" height="2" fill="#ffffff"/>
<rect x="-1" y="2" width="15.5" height="14" rx="1.5" fill="#3d7fd6"/><rect x="2.8" y="3.2" width="10.6" height="11.6" fill="#ffffff"/><rect x="0" y="3" width="2" height="11" fill="#1e4fa8"/><g fill="#c8dcf8"><rect x="6" y="4.2" width="7" height="1"/><rect x="6" y="6.2" width="7" height="1"/><rect x="6" y="8.2" width="7" height="1"/><rect x="6" y="10.2" width="7" height="1"/></g><rect x="4" y="4" width="1.4" height="1.4" fill="#ff2020"/><rect x="4" y="6" width="1.4" height="1.4" fill="#303030"/><rect x="4" y="8" width="1.4" height="1.4" fill="#303030"/><rect x="4" y="10" width="1.4" height="1.4" fill="#ff2020"/>
<rect x="27.5" y="1.5" width="12.5" height="13.5" rx="1" fill="#f4efe4" stroke="#b8ae9c" stroke-width="0.9"/><path d="M30.5,3v8M29.5,6.5h1M33.5,3.5v7M33.5,5h1.2M36.5,3v6" stroke="#707880" stroke-width="0.9" fill="none"/><path d="M39.2,14.2L44.2,18" stroke="#c8981c" stroke-width="2.4" stroke-linecap="round"/><circle cx="35.2" cy="10.3" r="4.9" fill="url(#glens)" fill-opacity="0.85" stroke="#6a9ad8" stroke-width="1.1"/><path d="M33.8,8v4.5h2.4v-4" stroke="#8a98a8" stroke-width="1" fill="#a8b4c4"/>
<rect x="52" y="0" width="1" height="19" fill="#a6a6a6"/>
<path d="M62.5,2h8.5l3.5,3.5v9.5h-12z" fill="#fdfdfd" stroke="#8a8a8a" stroke-width="0.9"/><path d="M71.0,2v3.5h3.5" fill="#e4e4e4" stroke="#8a8a8a" stroke-width="0.7"/>
<path d="M64.5,5.5h4M64.5,8.5h6M64.5,10.5h4" stroke="#9a9a9a" stroke-width="0.9"/>
<path d="M70.3,7.2h3.8v3.9h3.9v3.8h-3.9v3.9h-3.8v-3.9h-3.9v-3.8h3.9z" fill="url(#gplus)" stroke="#078a07" stroke-width="0.8"/>
<text class="cn" x="80.5" y="12.6" textLength="36.5" lengthAdjust="spacingAndGlyphs">新订单</text>
<path d="M134.5,2L145,10.5L137,17L129,11.5z" fill="url(#ggold)" stroke="#b47a10" stroke-width="1"/><path d="M129.3,11.8L137,17.2L145,10.8L145,12.2L137,18.6L129.3,13z" fill="#a86c0c"/>
<path d="M159.5,3l4,-2h6.5v9h-10.5z" fill="#1c8cf0" stroke="#1560c0" stroke-width="0.8"/><path d="M159.5,3l3.5,1.5v6" stroke="#a8d4ff" stroke-width="0.8" fill="none"/><rect x="164.5" y="4.5" width="4" height="1.6" fill="#d8ecff"/><path d="M160,16.4a3,3 0 0 1 0.3,-5.9a3.4,3.4 0 0 1 6,-1.2a2.9,2.9 0 0 1 4.3,2a2.6,2.6 0 0 1 -0.2,5.1z" fill="#e4ecf8" stroke="#4c74bc" stroke-width="1"/>
<g fill="none" stroke-width="1.1"><path d="M193,0.8a7.8,7.8 0 0 0 -3,15" stroke="#7098e0"/><path d="M193,3.2a5.4,5.4 0 0 0 -2,10.4" stroke="#7098e0"/><path d="M193,5.6a3,3 0 0 0 -1,5.8" stroke="#7098e0"/><path d="M193,0.8a7.8,7.8 0 0 1 0,15.6" stroke="#9cc89c"/><path d="M193,3.2a5.4,5.4 0 0 1 0,10.8" stroke="#7cb87c"/><path d="M193,5.6a3,3 0 0 1 0,6" stroke="#5ca85c"/></g><path d="M193,8.6V16.6" stroke="#18a018" stroke-width="1.6"/><path d="M193,16.6a7.9,7.9 0 0 0 6,-3.2l-6,-2z" fill="#48b048" fill-opacity="0.8"/><circle cx="193" cy="8.6" r="1.7" fill="#2858d0"/>
<path d="M214.5,7.2h12.8l-1,5.4l-5,4.4l-5.4,-4.6z" fill="#f8d848" stroke="#d0a020" stroke-width="0.8"/><ellipse cx="220" cy="5.8" rx="7.8" ry="2.6" fill="#58a8e0" stroke="#2c78b8" stroke-width="0.8"/><path d="M215.8,5.2a4.4,4.2 0 0 1 8.4,0z" fill="#78c0f0" stroke="#2c78b8" stroke-width="0.8"/><circle cx="224.6" cy="12.8" r="3.9" fill="#e82010" stroke="#b01008" stroke-width="0.6"/><rect x="223" y="11.2" width="3.2" height="3.2" fill="#fff"/>
<text class="cn" x="233.5" y="12.6" textLength="46.8" lengthAdjust="spacingAndGlyphs">自动交易</text>
<rect x="288" y="0" width="1" height="21" fill="#a0a0a0"/><rect x="289" y="0" width="1" height="21" fill="#fbfbfb"/>
<rect x="292" y="1" width="3" height="1" fill="#b0b0b0"/>
<rect x="292" y="3" width="3" height="1" fill="#b0b0b0"/>
<rect x="292" y="5" width="3" height="1" fill="#b0b0b0"/>
<rect x="292" y="7" width="3" height="1" fill="#b0b0b0"/>
<rect x="292" y="9" width="3" height="1" fill="#b0b0b0"/>
<rect x="292" y="11" width="3" height="1" fill="#b0b0b0"/>
<rect x="292" y="13" width="3" height="1" fill="#b0b0b0"/>
<rect x="292" y="15" width="3" height="1" fill="#b0b0b0"/>
<rect x="292" y="17" width="3" height="1" fill="#b0b0b0"/>
<g stroke="#505050" stroke-width="1.2" fill="none"><path d="M306.3,3.5V17M304.1,14.6H317.3"/></g><polygon points="306.3,2 304.3,5 308.3,5" fill="#505050"/><polygon points="318.5,14.6 315.5,12.6 315.5,16.6" fill="#505050"/>
<path d="M312.9,4.8V12.4M312.9,5.4h2.2M312.9,11.6h-2.6" stroke="#0c9c0c" stroke-width="1.4" fill="none"/>
<rect x="326" y="0" width="26" height="19" fill="url(#chk)"/><rect x="326" y="0" width="1" height="19" fill="#a6a6a6"/>
<g stroke="#505050" stroke-width="1.2" fill="none"><path d="M334.5,3.5V17M332.3,14.6H345.5"/></g><polygon points="334.5,2 332.5,5 336.5,5" fill="#505050"/><polygon points="346.7,14.6 343.7,12.6 343.7,16.6" fill="#505050"/>
<path d="M340.5,1V13" stroke="#0c9c0c" stroke-width="1.4"/><rect x="338.2" y="3.5" width="4.6" height="7.2" fill="url(#gcandle)" stroke="#0c9c0c" stroke-width="1"/>
<g stroke="#505050" stroke-width="1.2" fill="none"><path d="M362.4,3.5V17M360.2,14.6H373.4"/></g><polygon points="362.4,2 360.4,5 364.4,5" fill="#505050"/><polygon points="374.59999999999997,14.6 371.59999999999997,12.6 371.59999999999997,16.6" fill="#505050"/>
<path d="M361,11.8C363.5,10 365,6 367.3,6.2S370.5,9.8 372.8,10.4" stroke="#18a018" stroke-width="1.3" fill="none"/>
<rect x="383" y="0" width="1" height="19" fill="#a6a6a6"/>
<path d="M401.79999999999995,11.3L406.9,15.6" stroke="#d8ac28" stroke-width="2.8" stroke-linecap="butt"/><path d="M401.79999999999995,11.3L406.9,15.6" stroke="#f8e078" stroke-width="1"/><circle cx="397.9" cy="6.9" r="5.3" fill="url(#glens)" stroke="#3474c8" stroke-width="1.2"/>
<path d="M394.9,6.9h6M397.9,3.9v6" stroke="#4a7cb0" stroke-width="1.7"/>
<path d="M429.9,11.3L435,15.6" stroke="#d8ac28" stroke-width="2.8" stroke-linecap="butt"/><path d="M429.9,11.3L435,15.6" stroke="#f8e078" stroke-width="1"/><circle cx="426" cy="6.9" r="5.3" fill="url(#glens)" stroke="#3474c8" stroke-width="1.2"/>
<path d="M423,6.9h6" stroke="#4a7cb0" stroke-width="1.7"/>
<rect x="448" y="1" width="8" height="7.9" rx="0.8" fill="url(#ggreen)"/><path d="M449.6,7.5v-2.6h4.8v2.6" fill="none" stroke="#fff" stroke-width="1.1"/><rect x="449.1" y="2" width="1" height="1" fill="#e8f0ff"/>
<rect x="456.2" y="1" width="8" height="7.9" rx="0.8" fill="url(#gblue)"/><path d="M457.8,7.5v-2.6h4.8v2.6" fill="none" stroke="#fff" stroke-width="1.1"/><rect x="457.3" y="2" width="1" height="1" fill="#e8f0ff"/>
<rect x="448" y="9.1" width="8" height="7.9" rx="0.8" fill="url(#gblue)"/><path d="M449.6,15.6v-2.6h4.8v2.6" fill="none" stroke="#fff" stroke-width="1.1"/><rect x="449.1" y="10.1" width="1" height="1" fill="#e8f0ff"/>
<rect x="456.2" y="9.1" width="8" height="7.9" rx="0.8" fill="url(#ggreen)"/><path d="M457.8,15.6v-2.6h4.8v2.6" fill="none" stroke="#fff" stroke-width="1.1"/><rect x="457.3" y="10.1" width="1" height="1" fill="#e8f0ff"/>
<rect x="473" y="0" width="1" height="19" fill="#a6a6a6"/>
<rect x="478" y="0" width="25" height="19" fill="url(#chk)"/><rect x="478" y="0" width="1" height="19" fill="#a6a6a6"/>
<g stroke="#505050" stroke-width="1.2" fill="none"><path d="M486.4,3.5V17M484.2,14.6H497.4"/></g><polygon points="486.4,2 484.4,5 488.4,5" fill="#505050"/><polygon points="498.59999999999997,14.6 495.59999999999997,12.6 495.59999999999997,16.6" fill="#505050"/>
<polygon points="491,5 491,11.8 495.4,8.4" fill="#8ce88c" stroke="#18a018" stroke-width="1"/>
<rect x="506" y="0" width="25" height="19" fill="url(#chk)"/><rect x="506" y="0" width="1" height="19" fill="#a6a6a6"/>
<g stroke="#505050" stroke-width="1.2" fill="none"><path d="M514.4,3.5V17M512.1999999999999,14.6H525.4"/></g><polygon points="514.4,2 512.4,5 516.4,5" fill="#505050"/><polygon points="526.6,14.6 523.6,12.6 523.6,16.6" fill="#505050"/>
<path d="M520.5,3V12.8" stroke="#1870b8" stroke-width="1.3"/><path d="M521.6,8.6h4.6" stroke="#d84808" stroke-width="1.2"/><polygon points="521.2,8.6 524,6.6 524,10.6" fill="#e85010"/>
<rect x="535" y="0" width="1" height="19" fill="#a6a6a6"/>
<path d="M545.5,1.6h8.0l3.5,3.5v9.5h-11.5z" fill="#fdfdfd" stroke="#8a8a8a" stroke-width="0.9"/><path d="M553.5,1.6v3.5h3.5" fill="#e4e4e4" stroke="#8a8a8a" stroke-width="0.7"/>
<path d="M549,4.5c-1.5,0 -1.5,1 -1.5,2v5M546.8,8h2.4" stroke="#707070" stroke-width="0.9" fill="none"/>
<path d="M553.0,7.2h3.8v3.9h3.9v3.8h-3.9v3.9h-3.8v-3.9h-3.9v-3.8h3.9z" fill="url(#gplus)" stroke="#078a07" stroke-width="0.8"/>
<polygon points="567,8 572.4,8 569.7,11" fill="#000"/>
<circle cx="591" cy="9" r="7.2" fill="#fdfdfd" stroke="#1868c8" stroke-width="2.2"/><circle cx="591" cy="9" r="8.1" fill="none" stroke="#0c4aa0" stroke-width="0.5"/><path d="M591,9V4.6M591,9h3" stroke="#303030" stroke-width="1.1" fill="none"/><g fill="#a0a0a0"><rect x="590.6" y="3" width="0.8" height="1"/><rect x="590.6" y="14" width="0.8" height="1"/><rect x="585" y="8.6" width="1" height="0.8"/><rect x="596" y="8.6" width="1" height="0.8"/></g>
<polygon points="606,8 611.4,8 608.7,11" fill="#000"/>
<rect x="622.5" y="2.4" width="15.2" height="13.2" fill="#ffffff" stroke="#3a78cc" stroke-width="1.2"/><rect x="622.5" y="2.4" width="15.2" height="2.4" fill="#4c8cdc"/><rect x="623" y="9.3" width="14.2" height="0.9" fill="#6a9cdc"/><path d="M624.5,8.4l2.2,-0.2l1.8,-1.6l1.8,1l2.4,-0.6l2,-1.2l1.6,0.6" stroke="#b02808" stroke-width="1.2" fill="none"/><path d="M624.5,13.6l2.2,-0.8l1.8,0.8l2.2,-1.8l1.8,1l1.8,-1.6l1.8,1.8" stroke="#18901c" stroke-width="1.1" fill="none"/>
<polygon points="644.8,8 650.1999999999999,8 647.5,11" fill="#000"/>
<rect x="656" y="0" width="1" height="21" fill="#a0a0a0"/><rect x="657" y="0" width="1" height="21" fill="#fbfbfb"/>
<rect x="660" y="1" width="3" height="1" fill="#b0b0b0"/>
<rect x="660" y="3" width="3" height="1" fill="#b0b0b0"/>
<rect x="660" y="5" width="3" height="1" fill="#b0b0b0"/>
<rect x="660" y="7" width="3" height="1" fill="#b0b0b0"/>
<rect x="660" y="9" width="3" height="1" fill="#b0b0b0"/>
<rect x="660" y="11" width="3" height="1" fill="#b0b0b0"/>
<rect x="660" y="13" width="3" height="1" fill="#b0b0b0"/>
<rect x="660" y="15" width="3" height="1" fill="#b0b0b0"/>
<rect x="660" y="17" width="3" height="1" fill="#b0b0b0"/>
<rect x="666" y="0" width="25" height="19" fill="url(#chk)"/><rect x="666" y="0" width="1" height="19" fill="#a6a6a6"/>
<polygon points="673.8,2 673.8,12.9 676.6,10.4 679.4,16.3 680.9,15.6 678.3,9.8 682.2,9.4" fill="#484848"/>
<path d="M706.5,2V8M706.5,11V17M699,9.5H705M708,9.5H714" stroke="#505050" stroke-width="1.3"/><rect x="706.1" y="9.1" width="0.8" height="0.8" fill="#505050"/>
<rect x="723" y="0" width="1" height="19" fill="#a6a6a6"/>
<path d="M740.5,3V16" stroke="#505050" stroke-width="1.3"/>
<path d="M763,9.5H775" stroke="#505050" stroke-width="1.3"/>
<path d="M790.9,15.9L803,3.5" stroke="#505050" stroke-width="1.2"/>
<g stroke="#505050" stroke-width="1.1" fill="none"><path d="M816.6,11.2L825.4,2.6M821.4,16L831,6.8"/><path d="M820.0,15.0L818.7,11.5L822.2,12.9L821.0,9.4L824.4,10.7L823.2,7.2L826.7,8.6L825.4,5.1L828.9,6.5" stroke-width="1.45"/><path d="M828.6,1.2L829.6,7" stroke-width="1.1"/></g>
<text x="827.6" y="18" font-size="7.2" font-weight="bold" fill="#303030">E</text>
<line x1="846" y1="2.4" x2="859" y2="2.4" stroke="#505050" stroke-width="1" stroke-dasharray="1 1"/>
<line x1="846" y1="5.2" x2="859" y2="5.2" stroke="#505050" stroke-width="1" stroke-dasharray="1 1"/>
<line x1="846" y1="9.3" x2="859" y2="9.3" stroke="#505050" stroke-width="1" stroke-dasharray="1 1"/>
<line x1="846" y1="13.4" x2="855" y2="13.4" stroke="#505050" stroke-width="1" stroke-dasharray="1 1"/>
<text x="855.8" y="18" font-size="7.2" font-weight="bold" fill="#303030">F</text>
<text x="876.2" y="14.3" font-size="12.8" fill="#505050">A</text>
<rect x="903" y="3" width="11.8" height="12.8" fill="none" stroke="#505050" stroke-width="1" stroke-dasharray="1 1"/><text x="904.6" y="13.9" font-size="11.6" font-weight="bold" fill="#505050">T</text>
<polygon points="933.5,2.4 937.2,5.8 933.5,7.4 929.8,5.8" fill="#505050"/><polygon points="940.5,16.4 944.2,12.6 940.5,11.4 936.8,12.6" fill="#505050"/><path d="M932.5,10.2l2.4,2.2l4.4,-5.6" stroke="#505050" stroke-width="1.2" fill="none"/>
<polygon points="951,8 956.4,8 953.7,11" fill="#000"/>
<rect x="962" y="0" width="1" height="21" fill="#a0a0a0"/><rect x="963" y="0" width="1" height="21" fill="#fbfbfb"/>
<rect x="966" y="1" width="3" height="1" fill="#b0b0b0"/>
<rect x="966" y="3" width="3" height="1" fill="#b0b0b0"/>
<rect x="966" y="5" width="3" height="1" fill="#b0b0b0"/>
<rect x="966" y="7" width="3" height="1" fill="#b0b0b0"/>
<rect x="966" y="9" width="3" height="1" fill="#b0b0b0"/>
<rect x="966" y="11" width="3" height="1" fill="#b0b0b0"/>
<rect x="966" y="13" width="3" height="1" fill="#b0b0b0"/>
<rect x="966" y="15" width="3" height="1" fill="#b0b0b0"/>
<rect x="966" y="17" width="3" height="1" fill="#b0b0b0"/>
<rect x="1140" y="0" width="25" height="19" fill="url(#chk)"/><rect x="1140" y="0" width="1" height="19" fill="#a6a6a6"/>
<text class="tf" x="977" y="13" textLength="13.4" lengthAdjust="spacingAndGlyphs">M1</text>
<text class="tf" x="1005.2" y="13" textLength="13.4" lengthAdjust="spacingAndGlyphs">M5</text>
<text class="tf" x="1031.4" y="13" textLength="18.2" lengthAdjust="spacingAndGlyphs">M15</text>
<text class="tf" x="1059.2" y="13" textLength="18.2" lengthAdjust="spacingAndGlyphs">M30</text>
<text class="tf" x="1090.2" y="13" textLength="12.2" lengthAdjust="spacingAndGlyphs">H1</text>
<text class="tf" x="1117.2" y="13" textLength="13.2" lengthAdjust="spacingAndGlyphs">H4</text>
<text class="tf" x="1146.2" y="13" textLength="12.4" lengthAdjust="spacingAndGlyphs">D1</text>
<text class="tf" x="1173.6" y="13" textLength="14.8" lengthAdjust="spacingAndGlyphs">W1</text>
<text class="tf" x="1200.2" y="13" textLength="15.4" lengthAdjust="spacingAndGlyphs">MN</text>
<rect x="1223" y="0" width="1" height="21" fill="#a0a0a0"/>
<path d="M1690.2,9.8L1686.2,13.8" stroke="#2458d0" stroke-width="2.6" stroke-linecap="round"/><circle cx="1693.4" cy="6.5" r="4" fill="#fdfdff" stroke="#2458d0" stroke-width="1.4"/>
<path d="M1726,1.6c3.6,0 6.5,2.1 6.5,4.7c0,1.8 -1.4,3.3 -3.4,4.1l0.4,2.4l-2.4,-1.9c-0.4,0 -0.7,0.1 -1.1,0.1c-3.6,0 -6.5,-2.1 -6.5,-4.7s2.9,-4.7 6.5,-4.7z" fill="#f4f4f6" stroke="#909090" stroke-width="0.9"/><path d="M1717.2,6.1c2.9,0 5.2,1.9 5.2,4.2s-2.3,4.2 -5.2,4.2c-0.5,0 -0.9,0 -1.3,-0.1l-1.6,1.6l0.1,-2.2c-1.4,-0.8 -2.4,-2 -2.4,-3.5c0,-2.3 2.3,-4.2 5.2,-4.2z" fill="#f6f6f8" stroke="#808080" stroke-width="0.9"/>
</g>
<rect x="1737" y="23" width="1" height="925" fill="#f0f0f0"/>
<rect x="0" y="947" width="1738" height="1" fill="#f0f0f0"/>
</svg></body></html>
